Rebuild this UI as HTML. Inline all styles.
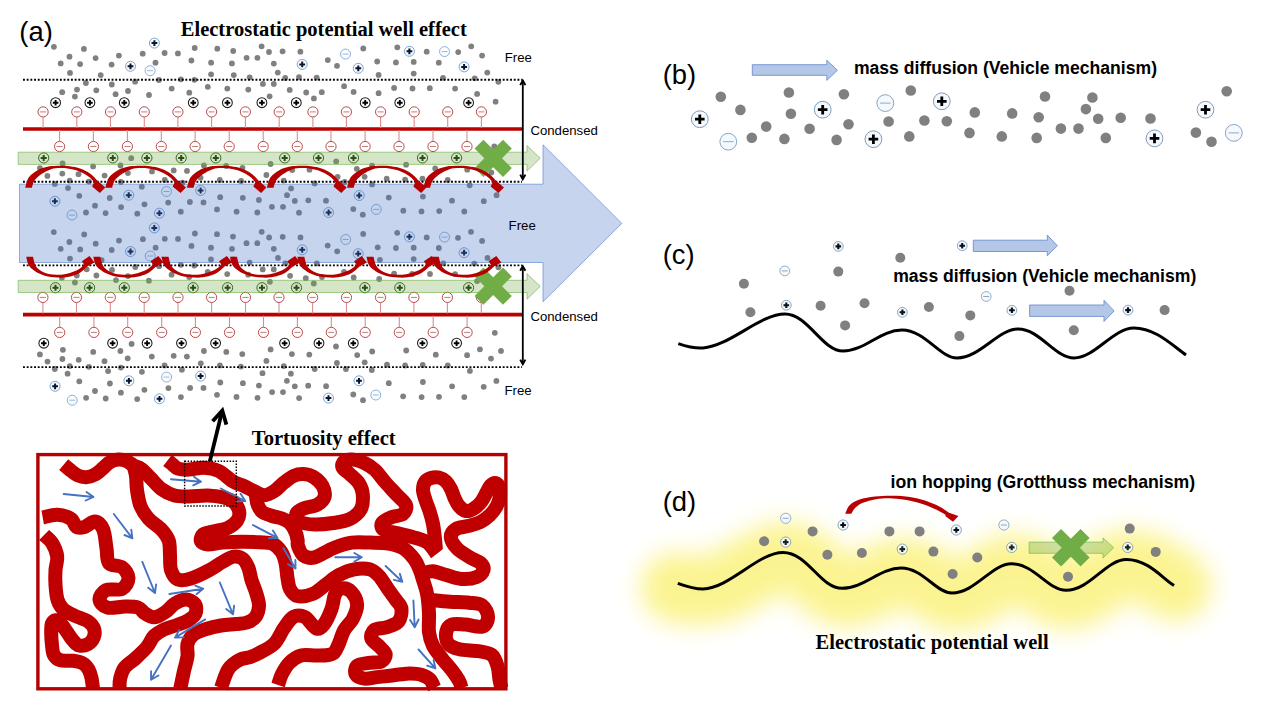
<!DOCTYPE html>
<html><head><meta charset="utf-8"><style>
html,body{margin:0;padding:0;background:#fff;overflow:hidden;}
svg{display:block;}
.s{font-family:"Liberation Sans",sans-serif;}
.r{font-family:"Liberation Serif",serif;}
</style></head><body>
<svg width="1268" height="714" viewBox="0 0 1268 714">
<defs><filter id="glow" filterUnits="userSpaceOnUse" x="560" y="460" width="720" height="240"><feGaussianBlur stdDeviation="12"/></filter></defs>
<rect width="1268" height="714" fill="#fff"/>
<circle cx="53.9" cy="46.8" r="2.9" fill="#808080"/><circle cx="83.9" cy="48.9" r="2.9" fill="#808080"/><circle cx="69.5" cy="56.7" r="2.9" fill="#808080"/><circle cx="95.6" cy="58.1" r="2.9" fill="#808080"/><circle cx="60.7" cy="63.4" r="2.9" fill="#808080"/><circle cx="80.1" cy="64.1" r="2.9" fill="#808080"/><circle cx="70" cy="72.9" r="2.9" fill="#808080"/><circle cx="111.6" cy="64.6" r="2.9" fill="#808080"/><circle cx="118.9" cy="55.6" r="2.9" fill="#808080"/><circle cx="100.7" cy="75.1" r="2.9" fill="#808080"/><circle cx="142.7" cy="53.7" r="2.9" fill="#808080"/><circle cx="164.6" cy="53" r="2.9" fill="#808080"/><circle cx="177.9" cy="53.4" r="2.9" fill="#808080"/><circle cx="194.7" cy="48" r="2.9" fill="#808080"/><circle cx="191.4" cy="60.5" r="2.9" fill="#808080"/><circle cx="155.5" cy="62.7" r="2.9" fill="#808080"/><circle cx="85.9" cy="83" r="2.9" fill="#808080"/><circle cx="111.8" cy="84.5" r="2.9" fill="#808080"/><circle cx="135.1" cy="81.7" r="2.9" fill="#808080"/><circle cx="158.9" cy="80" r="2.9" fill="#808080"/><circle cx="180.9" cy="79.3" r="2.9" fill="#808080"/><circle cx="194.4" cy="79.8" r="2.9" fill="#808080"/><circle cx="62.2" cy="92.2" r="2.9" fill="#808080"/><circle cx="77" cy="89.6" r="2.9" fill="#808080"/><circle cx="74.9" cy="96.6" r="2.9" fill="#808080"/><circle cx="96.3" cy="90.3" r="2.9" fill="#808080"/><circle cx="115.6" cy="94.2" r="2.9" fill="#808080"/><circle cx="128" cy="91" r="2.9" fill="#808080"/><circle cx="149" cy="95" r="2.9" fill="#808080"/><circle cx="171.7" cy="88.6" r="2.9" fill="#808080"/><circle cx="189.3" cy="92.7" r="2.9" fill="#808080"/><circle cx="217.3" cy="48.7" r="2.9" fill="#808080"/><circle cx="233.2" cy="51" r="2.9" fill="#808080"/><circle cx="211.1" cy="62.7" r="2.9" fill="#808080"/><circle cx="231.9" cy="63.4" r="2.9" fill="#808080"/><circle cx="211.1" cy="74.3" r="2.9" fill="#808080"/><circle cx="233.8" cy="75.1" r="2.9" fill="#808080"/><circle cx="246.6" cy="57.8" r="2.9" fill="#808080"/><circle cx="257.4" cy="57.8" r="2.9" fill="#808080"/><circle cx="261.6" cy="46.3" r="2.9" fill="#808080"/><circle cx="269" cy="52" r="2.9" fill="#808080"/><circle cx="282.6" cy="51.3" r="2.9" fill="#808080"/><circle cx="273.8" cy="63.6" r="2.9" fill="#808080"/><circle cx="277.8" cy="72.6" r="2.9" fill="#808080"/><circle cx="300.4" cy="51.7" r="2.9" fill="#808080"/><circle cx="249.7" cy="77.3" r="2.9" fill="#808080"/><circle cx="285.2" cy="78" r="2.9" fill="#808080"/><circle cx="299" cy="77.1" r="2.9" fill="#808080"/><circle cx="316.7" cy="77.6" r="2.9" fill="#808080"/><circle cx="327.8" cy="60.1" r="2.9" fill="#808080"/><circle cx="337" cy="65.8" r="2.9" fill="#808080"/><circle cx="363.3" cy="48.5" r="2.9" fill="#808080"/><circle cx="377.2" cy="61.5" r="2.9" fill="#808080"/><circle cx="378.6" cy="74.9" r="2.9" fill="#808080"/><circle cx="207.8" cy="86.8" r="2.9" fill="#808080"/><circle cx="227.3" cy="88.6" r="2.9" fill="#808080"/><circle cx="248.3" cy="89.6" r="2.9" fill="#808080"/><circle cx="262.9" cy="83.9" r="2.9" fill="#808080"/><circle cx="273.8" cy="83.9" r="2.9" fill="#808080"/><circle cx="269.6" cy="96.3" r="2.9" fill="#808080"/><circle cx="289.7" cy="89.9" r="2.9" fill="#808080"/><circle cx="306.2" cy="92.5" r="2.9" fill="#808080"/><circle cx="313.9" cy="98.4" r="2.9" fill="#808080"/><circle cx="321.8" cy="92.2" r="2.9" fill="#808080"/><circle cx="344.1" cy="86.2" r="2.9" fill="#808080"/><circle cx="353.6" cy="91.9" r="2.9" fill="#808080"/><circle cx="378.6" cy="93.2" r="2.9" fill="#808080"/><circle cx="397.3" cy="47.3" r="2.9" fill="#808080"/><circle cx="426.7" cy="51.7" r="2.9" fill="#808080"/><circle cx="458.2" cy="52.1" r="2.9" fill="#808080"/><circle cx="471.2" cy="46.3" r="2.9" fill="#808080"/><circle cx="482.1" cy="55.6" r="2.9" fill="#808080"/><circle cx="395.9" cy="62.4" r="2.9" fill="#808080"/><circle cx="413.7" cy="61.9" r="2.9" fill="#808080"/><circle cx="438.8" cy="62.7" r="2.9" fill="#808080"/><circle cx="413.7" cy="73.6" r="2.9" fill="#808080"/><circle cx="443" cy="77.8" r="2.9" fill="#808080"/><circle cx="474.7" cy="78.3" r="2.9" fill="#808080"/><circle cx="487.3" cy="72.6" r="2.9" fill="#808080"/><circle cx="498.4" cy="81.8" r="2.9" fill="#808080"/><circle cx="394.1" cy="87.9" r="2.9" fill="#808080"/><circle cx="412.5" cy="88.5" r="2.9" fill="#808080"/><circle cx="429.8" cy="88.2" r="2.9" fill="#808080"/><circle cx="455.1" cy="88.6" r="2.9" fill="#808080"/><circle cx="477.1" cy="93.9" r="2.9" fill="#808080"/><circle cx="495.6" cy="101.7" r="2.9" fill="#808080"/><circle cx="39.9" cy="168.1" r="2.9" fill="#808080"/><circle cx="62.6" cy="163.5" r="2.9" fill="#808080"/><circle cx="47.4" cy="175.9" r="2.9" fill="#808080"/><circle cx="62.3" cy="173.6" r="2.9" fill="#808080"/><circle cx="78.5" cy="174.2" r="2.9" fill="#808080"/><circle cx="93.1" cy="166.4" r="2.9" fill="#808080"/><circle cx="104.6" cy="175.6" r="2.9" fill="#808080"/><circle cx="120.5" cy="165.4" r="2.9" fill="#808080"/><circle cx="127.9" cy="173.1" r="2.9" fill="#808080"/><circle cx="152" cy="171.4" r="2.9" fill="#808080"/><circle cx="173.7" cy="170.4" r="2.9" fill="#808080"/><circle cx="187" cy="170.9" r="2.9" fill="#808080"/><circle cx="69.7" cy="180.6" r="2.9" fill="#808080"/><circle cx="88.9" cy="181.6" r="2.9" fill="#808080"/><circle cx="120.8" cy="182" r="2.9" fill="#808080"/><circle cx="164.8" cy="179.9" r="2.9" fill="#808080"/><circle cx="182.5" cy="182.7" r="2.9" fill="#808080"/><circle cx="54.8" cy="183.9" r="2.9" fill="#808080"/><circle cx="68" cy="188.1" r="2.9" fill="#808080"/><circle cx="79.3" cy="195.8" r="2.9" fill="#808080"/><circle cx="95" cy="205.7" r="2.9" fill="#808080"/><circle cx="86" cy="212.5" r="2.9" fill="#808080"/><circle cx="109.7" cy="198" r="2.9" fill="#808080"/><circle cx="105.6" cy="213.1" r="2.9" fill="#808080"/><circle cx="121.1" cy="207.1" r="2.9" fill="#808080"/><circle cx="137.3" cy="213.7" r="2.9" fill="#808080"/><circle cx="141.8" cy="186.7" r="2.9" fill="#808080"/><circle cx="144.5" cy="204.3" r="2.9" fill="#808080"/><circle cx="168.2" cy="202.6" r="2.9" fill="#808080"/><circle cx="180.8" cy="211.7" r="2.9" fill="#808080"/><circle cx="189.9" cy="202" r="2.9" fill="#808080"/><circle cx="131.2" cy="158.2" r="2.9" fill="#808080"/><circle cx="494.3" cy="146.4" r="2.9" fill="#808080"/><circle cx="203.9" cy="165.4" r="2.9" fill="#808080"/><circle cx="226.2" cy="166" r="2.9" fill="#808080"/><circle cx="242.5" cy="167.8" r="2.9" fill="#808080"/><circle cx="270.6" cy="164" r="2.9" fill="#808080"/><circle cx="200.6" cy="177.7" r="2.9" fill="#808080"/><circle cx="219.8" cy="179.9" r="2.9" fill="#808080"/><circle cx="241.1" cy="181" r="2.9" fill="#808080"/><circle cx="266.4" cy="175" r="2.9" fill="#808080"/><circle cx="283.7" cy="180.6" r="2.9" fill="#808080"/><circle cx="292.2" cy="170" r="2.9" fill="#808080"/><circle cx="309.5" cy="169.7" r="2.9" fill="#808080"/><circle cx="336.2" cy="161.4" r="2.9" fill="#808080"/><circle cx="337.6" cy="177" r="2.9" fill="#808080"/><circle cx="356.8" cy="168.8" r="2.9" fill="#808080"/><circle cx="364.6" cy="176.8" r="2.9" fill="#808080"/><circle cx="314.6" cy="183.4" r="2.9" fill="#808080"/><circle cx="344.7" cy="182" r="2.9" fill="#808080"/><circle cx="291.1" cy="188.4" r="2.9" fill="#808080"/><circle cx="287" cy="195.2" r="2.9" fill="#808080"/><circle cx="220.2" cy="197.2" r="2.9" fill="#808080"/><circle cx="242.8" cy="197.8" r="2.9" fill="#808080"/><circle cx="258.9" cy="200" r="2.9" fill="#808080"/><circle cx="203.5" cy="202.4" r="2.9" fill="#808080"/><circle cx="294.8" cy="200.9" r="2.9" fill="#808080"/><circle cx="308.3" cy="200.3" r="2.9" fill="#808080"/><circle cx="326" cy="200.7" r="2.9" fill="#808080"/><circle cx="217" cy="209.4" r="2.9" fill="#808080"/><circle cx="236.6" cy="211.7" r="2.9" fill="#808080"/><circle cx="257.3" cy="212.5" r="2.9" fill="#808080"/><circle cx="271.9" cy="206.8" r="2.9" fill="#808080"/><circle cx="283" cy="206.8" r="2.9" fill="#808080"/><circle cx="299" cy="212.7" r="2.9" fill="#808080"/><circle cx="353.3" cy="209.1" r="2.9" fill="#808080"/><circle cx="362.8" cy="214.7" r="2.9" fill="#808080"/><circle cx="372.1" cy="165.7" r="2.9" fill="#808080"/><circle cx="406.1" cy="164.7" r="2.9" fill="#808080"/><circle cx="435.2" cy="168.5" r="2.9" fill="#808080"/><circle cx="467.2" cy="169.7" r="2.9" fill="#808080"/><circle cx="491.3" cy="172.5" r="2.9" fill="#808080"/><circle cx="386.7" cy="178.7" r="2.9" fill="#808080"/><circle cx="405.1" cy="179.6" r="2.9" fill="#808080"/><circle cx="422.5" cy="178.7" r="2.9" fill="#808080"/><circle cx="447.7" cy="179.9" r="2.9" fill="#808080"/><circle cx="372.1" cy="184.4" r="2.9" fill="#808080"/><circle cx="469.7" cy="185.3" r="2.9" fill="#808080"/><circle cx="422.9" cy="196.6" r="2.9" fill="#808080"/><circle cx="388.8" cy="197.6" r="2.9" fill="#808080"/><circle cx="452" cy="200.7" r="2.9" fill="#808080"/><circle cx="483.8" cy="201.2" r="2.9" fill="#808080"/><circle cx="496.6" cy="195.2" r="2.9" fill="#808080"/><circle cx="403.3" cy="210.7" r="2.9" fill="#808080"/><circle cx="421.5" cy="211.4" r="2.9" fill="#808080"/><circle cx="439.2" cy="211.1" r="2.9" fill="#808080"/><circle cx="464.3" cy="211.5" r="2.9" fill="#808080"/><circle cx="53.8" cy="232.1" r="2.9" fill="#808080"/><circle cx="84.2" cy="234.4" r="2.9" fill="#808080"/><circle cx="69.4" cy="242" r="2.9" fill="#808080"/><circle cx="95.7" cy="243.7" r="2.9" fill="#808080"/><circle cx="60.7" cy="248.8" r="2.9" fill="#808080"/><circle cx="80.2" cy="249.4" r="2.9" fill="#808080"/><circle cx="70" cy="258.6" r="2.9" fill="#808080"/><circle cx="119" cy="240.6" r="2.9" fill="#808080"/><circle cx="111.7" cy="250" r="2.9" fill="#808080"/><circle cx="142.9" cy="239.2" r="2.9" fill="#808080"/><circle cx="164.8" cy="238.8" r="2.9" fill="#808080"/><circle cx="178" cy="238.9" r="2.9" fill="#808080"/><circle cx="155.6" cy="247.7" r="2.9" fill="#808080"/><circle cx="191.5" cy="245.9" r="2.9" fill="#808080"/><circle cx="194.9" cy="233.5" r="2.9" fill="#808080"/><circle cx="101.6" cy="260.2" r="2.9" fill="#808080"/><circle cx="86.7" cy="269.3" r="2.9" fill="#808080"/><circle cx="112" cy="269.9" r="2.9" fill="#808080"/><circle cx="135.3" cy="267" r="2.9" fill="#808080"/><circle cx="159.1" cy="266.2" r="2.9" fill="#808080"/><circle cx="180.8" cy="264.8" r="2.9" fill="#808080"/><circle cx="194.3" cy="265.5" r="2.9" fill="#808080"/><circle cx="76.8" cy="275.5" r="2.9" fill="#808080"/><circle cx="96.4" cy="275.5" r="2.9" fill="#808080"/><circle cx="127.9" cy="276.1" r="2.9" fill="#808080"/><circle cx="171.6" cy="274.7" r="2.9" fill="#808080"/><circle cx="189.2" cy="277.1" r="2.9" fill="#808080"/><circle cx="61.9" cy="277.8" r="2.9" fill="#808080"/><circle cx="74.9" cy="282.5" r="2.9" fill="#808080"/><circle cx="116" cy="280.1" r="2.9" fill="#808080"/><circle cx="148.9" cy="280.7" r="2.9" fill="#808080"/><circle cx="217" cy="234.2" r="2.9" fill="#808080"/><circle cx="233" cy="236.6" r="2.9" fill="#808080"/><circle cx="261.7" cy="231.8" r="2.9" fill="#808080"/><circle cx="269.1" cy="237.5" r="2.9" fill="#808080"/><circle cx="282.7" cy="236.8" r="2.9" fill="#808080"/><circle cx="300.5" cy="237.4" r="2.9" fill="#808080"/><circle cx="363.2" cy="233.9" r="2.9" fill="#808080"/><circle cx="211" cy="247.7" r="2.9" fill="#808080"/><circle cx="232" cy="248.8" r="2.9" fill="#808080"/><circle cx="246.5" cy="243.2" r="2.9" fill="#808080"/><circle cx="257.3" cy="243.2" r="2.9" fill="#808080"/><circle cx="273.8" cy="248.8" r="2.9" fill="#808080"/><circle cx="278" cy="257.9" r="2.9" fill="#808080"/><circle cx="327.7" cy="245.6" r="2.9" fill="#808080"/><circle cx="337.2" cy="251.3" r="2.9" fill="#808080"/><circle cx="211" cy="259.4" r="2.9" fill="#808080"/><circle cx="233.4" cy="259.5" r="2.9" fill="#808080"/><circle cx="249.6" cy="262.6" r="2.9" fill="#808080"/><circle cx="285.4" cy="263.3" r="2.9" fill="#808080"/><circle cx="316.8" cy="263.3" r="2.9" fill="#808080"/><circle cx="207.7" cy="271.8" r="2.9" fill="#808080"/><circle cx="227.2" cy="274.1" r="2.9" fill="#808080"/><circle cx="248.2" cy="274.7" r="2.9" fill="#808080"/><circle cx="262.7" cy="269.4" r="2.9" fill="#808080"/><circle cx="273.8" cy="269.4" r="2.9" fill="#808080"/><circle cx="290.1" cy="275.8" r="2.9" fill="#808080"/><circle cx="305.8" cy="278.2" r="2.9" fill="#808080"/><circle cx="322" cy="277" r="2.9" fill="#808080"/><circle cx="344" cy="271.8" r="2.9" fill="#808080"/><circle cx="353.7" cy="277.5" r="2.9" fill="#808080"/><circle cx="269.9" cy="281.8" r="2.9" fill="#808080"/><circle cx="313.8" cy="283.5" r="2.9" fill="#808080"/><circle cx="397.2" cy="232.8" r="2.9" fill="#808080"/><circle cx="426.7" cy="237.4" r="2.9" fill="#808080"/><circle cx="458" cy="237.8" r="2.9" fill="#808080"/><circle cx="471" cy="231.8" r="2.9" fill="#808080"/><circle cx="482.1" cy="240.9" r="2.9" fill="#808080"/><circle cx="377.7" cy="247.3" r="2.9" fill="#808080"/><circle cx="395.9" cy="248" r="2.9" fill="#808080"/><circle cx="413.7" cy="247.7" r="2.9" fill="#808080"/><circle cx="438.8" cy="248" r="2.9" fill="#808080"/><circle cx="379.9" cy="259.8" r="2.9" fill="#808080"/><circle cx="413.7" cy="259.1" r="2.9" fill="#808080"/><circle cx="443.3" cy="263.3" r="2.9" fill="#808080"/><circle cx="474.3" cy="263.6" r="2.9" fill="#808080"/><circle cx="487.5" cy="257.9" r="2.9" fill="#808080"/><circle cx="498.4" cy="267.3" r="2.9" fill="#808080"/><circle cx="394.1" cy="273.6" r="2.9" fill="#808080"/><circle cx="412.2" cy="274" r="2.9" fill="#808080"/><circle cx="430" cy="274" r="2.9" fill="#808080"/><circle cx="455.1" cy="274.1" r="2.9" fill="#808080"/><circle cx="379.2" cy="279" r="2.9" fill="#808080"/><circle cx="477.1" cy="281.1" r="2.9" fill="#808080"/><circle cx="62.9" cy="349.8" r="2.9" fill="#808080"/><circle cx="39.9" cy="354.4" r="2.9" fill="#808080"/><circle cx="62.4" cy="359" r="2.9" fill="#808080"/><circle cx="47.5" cy="361.6" r="2.9" fill="#808080"/><circle cx="78.7" cy="359.8" r="2.9" fill="#808080"/><circle cx="93.2" cy="351.9" r="2.9" fill="#808080"/><circle cx="104.5" cy="361.2" r="2.9" fill="#808080"/><circle cx="120.4" cy="351" r="2.9" fill="#808080"/><circle cx="131.6" cy="343.9" r="2.9" fill="#808080"/><circle cx="127.7" cy="358.3" r="2.9" fill="#808080"/><circle cx="151.8" cy="356.6" r="2.9" fill="#808080"/><circle cx="173.7" cy="355.8" r="2.9" fill="#808080"/><circle cx="186.9" cy="356.6" r="2.9" fill="#808080"/><circle cx="203.9" cy="351" r="2.9" fill="#808080"/><circle cx="200.8" cy="363.3" r="2.9" fill="#808080"/><circle cx="54.8" cy="369" r="2.9" fill="#808080"/><circle cx="69.8" cy="366.1" r="2.9" fill="#808080"/><circle cx="88.9" cy="366.8" r="2.9" fill="#808080"/><circle cx="120.9" cy="367.6" r="2.9" fill="#808080"/><circle cx="164.6" cy="365.4" r="2.9" fill="#808080"/><circle cx="181.9" cy="369.7" r="2.9" fill="#808080"/><circle cx="108.1" cy="371.1" r="2.9" fill="#808080"/><circle cx="67.6" cy="373.7" r="2.9" fill="#808080"/><circle cx="141.9" cy="371.8" r="2.9" fill="#808080"/><circle cx="79.3" cy="381.3" r="2.9" fill="#808080"/><circle cx="109.9" cy="383.5" r="2.9" fill="#808080"/><circle cx="95" cy="391" r="2.9" fill="#808080"/><circle cx="86.1" cy="397.8" r="2.9" fill="#808080"/><circle cx="105.7" cy="398.5" r="2.9" fill="#808080"/><circle cx="120.9" cy="392.7" r="2.9" fill="#808080"/><circle cx="144.4" cy="389.8" r="2.9" fill="#808080"/><circle cx="137.2" cy="399.1" r="2.9" fill="#808080"/><circle cx="168.4" cy="388.1" r="2.9" fill="#808080"/><circle cx="190.1" cy="387.9" r="2.9" fill="#808080"/><circle cx="203.5" cy="387.9" r="2.9" fill="#808080"/><circle cx="180.9" cy="397.1" r="2.9" fill="#808080"/><circle cx="226.3" cy="351.9" r="2.9" fill="#808080"/><circle cx="242.3" cy="354.1" r="2.9" fill="#808080"/><circle cx="270.6" cy="349.4" r="2.9" fill="#808080"/><circle cx="291.9" cy="354.1" r="2.9" fill="#808080"/><circle cx="309.3" cy="354.6" r="2.9" fill="#808080"/><circle cx="336" cy="346.5" r="2.9" fill="#808080"/><circle cx="357.2" cy="355.1" r="2.9" fill="#808080"/><circle cx="372.2" cy="351.5" r="2.9" fill="#808080"/><circle cx="266.4" cy="360.9" r="2.9" fill="#808080"/><circle cx="336.9" cy="363" r="2.9" fill="#808080"/><circle cx="364.7" cy="362.3" r="2.9" fill="#808080"/><circle cx="219.9" cy="365.4" r="2.9" fill="#808080"/><circle cx="240.9" cy="366.6" r="2.9" fill="#808080"/><circle cx="283.8" cy="366.1" r="2.9" fill="#808080"/><circle cx="314.7" cy="369" r="2.9" fill="#808080"/><circle cx="345.9" cy="369" r="2.9" fill="#808080"/><circle cx="371.8" cy="370" r="2.9" fill="#808080"/><circle cx="262.5" cy="373.2" r="2.9" fill="#808080"/><circle cx="290.9" cy="373.7" r="2.9" fill="#808080"/><circle cx="286.9" cy="380.8" r="2.9" fill="#808080"/><circle cx="220.3" cy="382.5" r="2.9" fill="#808080"/><circle cx="242.9" cy="383.2" r="2.9" fill="#808080"/><circle cx="258.9" cy="385.6" r="2.9" fill="#808080"/><circle cx="294.8" cy="386.3" r="2.9" fill="#808080"/><circle cx="308.2" cy="385.7" r="2.9" fill="#808080"/><circle cx="326.1" cy="386.2" r="2.9" fill="#808080"/><circle cx="217" cy="394.8" r="2.9" fill="#808080"/><circle cx="236.5" cy="396.9" r="2.9" fill="#808080"/><circle cx="257.5" cy="397.8" r="2.9" fill="#808080"/><circle cx="272.1" cy="392.1" r="2.9" fill="#808080"/><circle cx="283" cy="392.1" r="2.9" fill="#808080"/><circle cx="299.1" cy="398.1" r="2.9" fill="#808080"/><circle cx="353.3" cy="394.5" r="2.9" fill="#808080"/><circle cx="363" cy="400.2" r="2.9" fill="#808080"/><circle cx="494.8" cy="332.8" r="2.9" fill="#808080"/><circle cx="406.2" cy="350.5" r="2.9" fill="#808080"/><circle cx="435.8" cy="354.7" r="2.9" fill="#808080"/><circle cx="467.1" cy="355.2" r="2.9" fill="#808080"/><circle cx="479.9" cy="349.3" r="2.9" fill="#808080"/><circle cx="501" cy="350.9" r="2.9" fill="#808080"/><circle cx="491" cy="358.6" r="2.9" fill="#808080"/><circle cx="387" cy="364.7" r="2.9" fill="#808080"/><circle cx="405.1" cy="365.5" r="2.9" fill="#808080"/><circle cx="422.7" cy="365" r="2.9" fill="#808080"/><circle cx="447.8" cy="365.5" r="2.9" fill="#808080"/><circle cx="469.9" cy="370.9" r="2.9" fill="#808080"/><circle cx="388.8" cy="383.2" r="2.9" fill="#808080"/><circle cx="422.9" cy="382" r="2.9" fill="#808080"/><circle cx="452.1" cy="386.3" r="2.9" fill="#808080"/><circle cx="483.7" cy="386.8" r="2.9" fill="#808080"/><circle cx="496.4" cy="380.9" r="2.9" fill="#808080"/><circle cx="403.1" cy="396.3" r="2.9" fill="#808080"/><circle cx="421.6" cy="397.1" r="2.9" fill="#808080"/><circle cx="439" cy="396.8" r="2.9" fill="#808080"/><circle cx="464.3" cy="397.1" r="2.9" fill="#808080"/><circle cx="154.4" cy="43.1" r="5.0" fill="#fafcff" stroke="#6d9ccc" stroke-width="0.9"/><path d="M151.5 43.1H157.3M154.4 40.2V46" stroke="#081630" stroke-width="2.0"/><circle cx="130.5" cy="66.3" r="5.0" fill="#fafcff" stroke="#6d9ccc" stroke-width="0.9"/><path d="M127.6 66.3H133.4M130.5 63.4V69.2" stroke="#081630" stroke-width="2.0"/><circle cx="302.2" cy="64.4" r="5.0" fill="#fafcff" stroke="#6d9ccc" stroke-width="0.9"/><path d="M299.3 64.4H305.1M302.2 61.5V67.3" stroke="#081630" stroke-width="2.0"/><circle cx="358.3" cy="68.3" r="5.0" fill="#fafcff" stroke="#6d9ccc" stroke-width="0.9"/><path d="M355.4 68.3H361.2M358.3 65.4V71.2" stroke="#081630" stroke-width="2.0"/><circle cx="409.4" cy="51.3" r="5.0" fill="#fafcff" stroke="#6d9ccc" stroke-width="0.9"/><path d="M406.5 51.3H412.3M409.4 48.4V54.2" stroke="#081630" stroke-width="2.0"/><circle cx="464.1" cy="66.9" r="5.0" fill="#fafcff" stroke="#6d9ccc" stroke-width="0.9"/><path d="M461.2 66.9H467M464.1 64V69.8" stroke="#081630" stroke-width="2.0"/><circle cx="54.9" cy="201.2" r="5.0" fill="#fafcff" stroke="#6d9ccc" stroke-width="0.9"/><path d="M52 201.2H57.8M54.9 198.3V204.1" stroke="#081630" stroke-width="2.0"/><circle cx="128.7" cy="195.2" r="5.0" fill="#fafcff" stroke="#6d9ccc" stroke-width="0.9"/><path d="M125.8 195.2H131.6M128.7 192.3V198.1" stroke="#081630" stroke-width="2.0"/><circle cx="159.4" cy="213.2" r="5.0" fill="#fafcff" stroke="#6d9ccc" stroke-width="0.9"/><path d="M156.5 213.2H162.3M159.4 210.3V216.1" stroke="#081630" stroke-width="2.0"/><circle cx="154.3" cy="227.9" r="5.0" fill="#fafcff" stroke="#6d9ccc" stroke-width="0.9"/><path d="M151.4 227.9H157.2M154.3 225V230.8" stroke="#081630" stroke-width="2.0"/><circle cx="200.6" cy="190.5" r="5.0" fill="#fafcff" stroke="#6d9ccc" stroke-width="0.9"/><path d="M197.7 190.5H203.5M200.6 187.6V193.4" stroke="#081630" stroke-width="2.0"/><circle cx="328.6" cy="212.5" r="5.0" fill="#fafcff" stroke="#6d9ccc" stroke-width="0.9"/><path d="M325.7 212.5H331.5M328.6 209.6V215.4" stroke="#081630" stroke-width="2.0"/><circle cx="359.2" cy="195.5" r="5.0" fill="#fafcff" stroke="#6d9ccc" stroke-width="0.9"/><path d="M356.3 195.5H362.1M359.2 192.6V198.4" stroke="#081630" stroke-width="2.0"/><circle cx="130.5" cy="251.5" r="5.0" fill="#fafcff" stroke="#6d9ccc" stroke-width="0.9"/><path d="M127.6 251.5H133.4M130.5 248.6V254.4" stroke="#081630" stroke-width="2.0"/><circle cx="302.2" cy="249.8" r="5.0" fill="#fafcff" stroke="#6d9ccc" stroke-width="0.9"/><path d="M299.3 249.8H305.1M302.2 246.9V252.7" stroke="#081630" stroke-width="2.0"/><circle cx="358.2" cy="253.7" r="5.0" fill="#fafcff" stroke="#6d9ccc" stroke-width="0.9"/><path d="M355.3 253.7H361.1M358.2 250.8V256.6" stroke="#081630" stroke-width="2.0"/><circle cx="409.4" cy="236.8" r="5.0" fill="#fafcff" stroke="#6d9ccc" stroke-width="0.9"/><path d="M406.5 236.8H412.3M409.4 233.9V239.7" stroke="#081630" stroke-width="2.0"/><circle cx="464.1" cy="252.7" r="5.0" fill="#fafcff" stroke="#6d9ccc" stroke-width="0.9"/><path d="M461.2 252.7H467M464.1 249.8V255.6" stroke="#081630" stroke-width="2.0"/><circle cx="55.1" cy="386.3" r="5.0" fill="#fafcff" stroke="#6d9ccc" stroke-width="0.9"/><path d="M52.2 386.3H58M55.1 383.4V389.2" stroke="#081630" stroke-width="2.0"/><circle cx="128.9" cy="380.8" r="5.0" fill="#fafcff" stroke="#6d9ccc" stroke-width="0.9"/><path d="M126 380.8H131.8M128.9 377.9V383.7" stroke="#081630" stroke-width="2.0"/><circle cx="159.5" cy="398.8" r="5.0" fill="#fafcff" stroke="#6d9ccc" stroke-width="0.9"/><path d="M156.6 398.8H162.4M159.5 395.9V401.7" stroke="#081630" stroke-width="2.0"/><circle cx="200.6" cy="376.1" r="5.0" fill="#fafcff" stroke="#6d9ccc" stroke-width="0.9"/><path d="M197.7 376.1H203.5M200.6 373.2V379" stroke="#081630" stroke-width="2.0"/><circle cx="328.5" cy="398.1" r="5.0" fill="#fafcff" stroke="#6d9ccc" stroke-width="0.9"/><path d="M325.6 398.1H331.4M328.5 395.2V401" stroke="#081630" stroke-width="2.0"/><circle cx="359" cy="380.8" r="5.0" fill="#fafcff" stroke="#6d9ccc" stroke-width="0.9"/><path d="M356.1 380.8H361.9M359 377.9V383.7" stroke="#081630" stroke-width="2.0"/><circle cx="150.1" cy="70.7" r="5.0" fill="#fafcff" stroke="#80a8d4" stroke-width="0.9"/><path d="M147.1 70.7H153.1" stroke="#a0b8d4" stroke-width="1.0"/><circle cx="345.5" cy="54.1" r="5.0" fill="#fafcff" stroke="#80a8d4" stroke-width="0.9"/><path d="M342.5 54.1H348.5" stroke="#a0b8d4" stroke-width="1.0"/><circle cx="444.5" cy="51.6" r="5.0" fill="#fafcff" stroke="#80a8d4" stroke-width="0.9"/><path d="M441.5 51.6H447.5" stroke="#a0b8d4" stroke-width="1.0"/><circle cx="72" cy="215.1" r="5.0" fill="#fafcff" stroke="#80a8d4" stroke-width="0.9"/><path d="M69 215.1H75" stroke="#a0b8d4" stroke-width="1.0"/><circle cx="166.5" cy="191.5" r="5.0" fill="#fafcff" stroke="#80a8d4" stroke-width="0.9"/><path d="M163.5 191.5H169.5" stroke="#a0b8d4" stroke-width="1.0"/><circle cx="376.3" cy="209.4" r="5.0" fill="#fafcff" stroke="#80a8d4" stroke-width="0.9"/><path d="M373.3 209.4H379.3" stroke="#a0b8d4" stroke-width="1.0"/><circle cx="150.2" cy="256" r="5.0" fill="#fafcff" stroke="#80a8d4" stroke-width="0.9"/><path d="M147.2 256H153.2" stroke="#a0b8d4" stroke-width="1.0"/><circle cx="345.7" cy="239.5" r="5.0" fill="#fafcff" stroke="#80a8d4" stroke-width="0.9"/><path d="M342.7 239.5H348.7" stroke="#a0b8d4" stroke-width="1.0"/><circle cx="444.5" cy="237.1" r="5.0" fill="#fafcff" stroke="#80a8d4" stroke-width="0.9"/><path d="M441.5 237.1H447.5" stroke="#a0b8d4" stroke-width="1.0"/><circle cx="72.2" cy="400.2" r="5.0" fill="#fafcff" stroke="#80a8d4" stroke-width="0.9"/><path d="M69.2 400.2H75.2" stroke="#a0b8d4" stroke-width="1.0"/><circle cx="166.6" cy="377.1" r="5.0" fill="#fafcff" stroke="#80a8d4" stroke-width="0.9"/><path d="M163.6 377.1H169.6" stroke="#a0b8d4" stroke-width="1.0"/><circle cx="375.8" cy="395" r="5.0" fill="#fafcff" stroke="#80a8d4" stroke-width="0.9"/><path d="M372.8 395H378.8" stroke="#a0b8d4" stroke-width="1.0"/><line x1="23" y1="79.7" x2="522" y2="79.7" stroke="#000" stroke-width="1.9" stroke-dasharray="1.9 1.79"/><line x1="23" y1="181.7" x2="522" y2="181.7" stroke="#000" stroke-width="1.9" stroke-dasharray="1.9 1.79"/><line x1="23" y1="265.4" x2="522" y2="265.4" stroke="#000" stroke-width="1.9" stroke-dasharray="1.9 1.79"/><line x1="23" y1="367.1" x2="522" y2="367.1" stroke="#000" stroke-width="1.9" stroke-dasharray="1.9 1.79"/><line x1="23" y1="129.0" x2="522.5" y2="129.0" stroke="#bb0000" stroke-width="3.6"/><line x1="23" y1="314.6" x2="522.5" y2="314.6" stroke="#bb0000" stroke-width="3.6"/><line x1="43.1" y1="117.2" x2="43.1" y2="128" stroke="#dc8c8c" stroke-width="1.1"/><circle cx="43.1" cy="111.9" r="5.1" fill="#fff" stroke="#b84a4a" stroke-width="1"/><path d="M40.1 111.9H46.1" stroke="#c87c7c" stroke-width="1"/><line x1="76.8" y1="117.2" x2="76.8" y2="128" stroke="#dc8c8c" stroke-width="1.1"/><circle cx="76.8" cy="111.9" r="5.1" fill="#fff" stroke="#b84a4a" stroke-width="1"/><path d="M73.8 111.9H79.8" stroke="#c87c7c" stroke-width="1"/><line x1="110.5" y1="117.2" x2="110.5" y2="128" stroke="#dc8c8c" stroke-width="1.1"/><circle cx="110.5" cy="111.9" r="5.1" fill="#fff" stroke="#b84a4a" stroke-width="1"/><path d="M107.5 111.9H113.5" stroke="#c87c7c" stroke-width="1"/><line x1="144.3" y1="117.2" x2="144.3" y2="128" stroke="#dc8c8c" stroke-width="1.1"/><circle cx="144.3" cy="111.9" r="5.1" fill="#fff" stroke="#b84a4a" stroke-width="1"/><path d="M141.3 111.9H147.3" stroke="#c87c7c" stroke-width="1"/><line x1="177.9" y1="117.2" x2="177.9" y2="128" stroke="#dc8c8c" stroke-width="1.1"/><circle cx="177.9" cy="111.9" r="5.1" fill="#fff" stroke="#b84a4a" stroke-width="1"/><path d="M174.9 111.9H180.9" stroke="#c87c7c" stroke-width="1"/><line x1="211.6" y1="117.2" x2="211.6" y2="128" stroke="#dc8c8c" stroke-width="1.1"/><circle cx="211.6" cy="111.9" r="5.1" fill="#fff" stroke="#b84a4a" stroke-width="1"/><path d="M208.6 111.9H214.6" stroke="#c87c7c" stroke-width="1"/><line x1="245.4" y1="117.2" x2="245.4" y2="128" stroke="#dc8c8c" stroke-width="1.1"/><circle cx="245.4" cy="111.9" r="5.1" fill="#fff" stroke="#b84a4a" stroke-width="1"/><path d="M242.4 111.9H248.4" stroke="#c87c7c" stroke-width="1"/><line x1="279.2" y1="117.2" x2="279.2" y2="128" stroke="#dc8c8c" stroke-width="1.1"/><circle cx="279.2" cy="111.9" r="5.1" fill="#fff" stroke="#b84a4a" stroke-width="1"/><path d="M276.2 111.9H282.2" stroke="#c87c7c" stroke-width="1"/><line x1="312.9" y1="117.2" x2="312.9" y2="128" stroke="#dc8c8c" stroke-width="1.1"/><circle cx="312.9" cy="111.9" r="5.1" fill="#fff" stroke="#b84a4a" stroke-width="1"/><path d="M309.9 111.9H315.9" stroke="#c87c7c" stroke-width="1"/><line x1="346.4" y1="117.2" x2="346.4" y2="128" stroke="#dc8c8c" stroke-width="1.1"/><circle cx="346.4" cy="111.9" r="5.1" fill="#fff" stroke="#b84a4a" stroke-width="1"/><path d="M343.4 111.9H349.4" stroke="#c87c7c" stroke-width="1"/><line x1="380.6" y1="117.2" x2="380.6" y2="128" stroke="#dc8c8c" stroke-width="1.1"/><circle cx="380.6" cy="111.9" r="5.1" fill="#fff" stroke="#b84a4a" stroke-width="1"/><path d="M377.6 111.9H383.6" stroke="#c87c7c" stroke-width="1"/><line x1="414.2" y1="117.2" x2="414.2" y2="128" stroke="#dc8c8c" stroke-width="1.1"/><circle cx="414.2" cy="111.9" r="5.1" fill="#fff" stroke="#b84a4a" stroke-width="1"/><path d="M411.2 111.9H417.2" stroke="#c87c7c" stroke-width="1"/><line x1="447.7" y1="117.2" x2="447.7" y2="128" stroke="#dc8c8c" stroke-width="1.1"/><circle cx="447.7" cy="111.9" r="5.1" fill="#fff" stroke="#b84a4a" stroke-width="1"/><path d="M444.7 111.9H450.7" stroke="#c87c7c" stroke-width="1"/><line x1="481.4" y1="117.2" x2="481.4" y2="128" stroke="#dc8c8c" stroke-width="1.1"/><circle cx="481.4" cy="111.9" r="5.1" fill="#fff" stroke="#b84a4a" stroke-width="1"/><path d="M478.4 111.9H484.4" stroke="#c87c7c" stroke-width="1"/><line x1="59.6" y1="130" x2="59.6" y2="141.2" stroke="#dc8c8c" stroke-width="1.1"/><circle cx="59.6" cy="146.5" r="5.1" fill="#fff" stroke="#b84a4a" stroke-width="1"/><path d="M56.6 146.5H62.6" stroke="#c87c7c" stroke-width="1"/><line x1="93.4" y1="130" x2="93.4" y2="141.2" stroke="#dc8c8c" stroke-width="1.1"/><circle cx="93.4" cy="146.5" r="5.1" fill="#fff" stroke="#b84a4a" stroke-width="1"/><path d="M90.4 146.5H96.4" stroke="#c87c7c" stroke-width="1"/><line x1="127.4" y1="130" x2="127.4" y2="141.2" stroke="#dc8c8c" stroke-width="1.1"/><circle cx="127.4" cy="146.5" r="5.1" fill="#fff" stroke="#b84a4a" stroke-width="1"/><path d="M124.4 146.5H130.4" stroke="#c87c7c" stroke-width="1"/><line x1="161.3" y1="130" x2="161.3" y2="141.2" stroke="#dc8c8c" stroke-width="1.1"/><circle cx="161.3" cy="146.5" r="5.1" fill="#fff" stroke="#b84a4a" stroke-width="1"/><path d="M158.3 146.5H164.3" stroke="#c87c7c" stroke-width="1"/><line x1="195.1" y1="130" x2="195.1" y2="141.2" stroke="#dc8c8c" stroke-width="1.1"/><circle cx="195.1" cy="146.5" r="5.1" fill="#fff" stroke="#b84a4a" stroke-width="1"/><path d="M192.1 146.5H198.1" stroke="#c87c7c" stroke-width="1"/><line x1="229.2" y1="130" x2="229.2" y2="141.2" stroke="#dc8c8c" stroke-width="1.1"/><circle cx="229.2" cy="146.5" r="5.1" fill="#fff" stroke="#b84a4a" stroke-width="1"/><path d="M226.2 146.5H232.2" stroke="#c87c7c" stroke-width="1"/><line x1="263.2" y1="130" x2="263.2" y2="141.2" stroke="#dc8c8c" stroke-width="1.1"/><circle cx="263.2" cy="146.5" r="5.1" fill="#fff" stroke="#b84a4a" stroke-width="1"/><path d="M260.2 146.5H266.2" stroke="#c87c7c" stroke-width="1"/><line x1="297.3" y1="130" x2="297.3" y2="141.2" stroke="#dc8c8c" stroke-width="1.1"/><circle cx="297.3" cy="146.5" r="5.1" fill="#fff" stroke="#b84a4a" stroke-width="1"/><path d="M294.3 146.5H300.3" stroke="#c87c7c" stroke-width="1"/><line x1="331" y1="130" x2="331" y2="141.2" stroke="#dc8c8c" stroke-width="1.1"/><circle cx="331" cy="146.5" r="5.1" fill="#fff" stroke="#b84a4a" stroke-width="1"/><path d="M328 146.5H334" stroke="#c87c7c" stroke-width="1"/><line x1="365.1" y1="130" x2="365.1" y2="141.2" stroke="#dc8c8c" stroke-width="1.1"/><circle cx="365.1" cy="146.5" r="5.1" fill="#fff" stroke="#b84a4a" stroke-width="1"/><path d="M362.1 146.5H368.1" stroke="#c87c7c" stroke-width="1"/><line x1="399" y1="130" x2="399" y2="141.2" stroke="#dc8c8c" stroke-width="1.1"/><circle cx="399" cy="146.5" r="5.1" fill="#fff" stroke="#b84a4a" stroke-width="1"/><path d="M396 146.5H402" stroke="#c87c7c" stroke-width="1"/><line x1="433" y1="130" x2="433" y2="141.2" stroke="#dc8c8c" stroke-width="1.1"/><circle cx="433" cy="146.5" r="5.1" fill="#fff" stroke="#b84a4a" stroke-width="1"/><path d="M430 146.5H436" stroke="#c87c7c" stroke-width="1"/><line x1="467" y1="130" x2="467" y2="141.2" stroke="#dc8c8c" stroke-width="1.1"/><circle cx="467" cy="146.5" r="5.1" fill="#fff" stroke="#b84a4a" stroke-width="1"/><path d="M464 146.5H470" stroke="#c87c7c" stroke-width="1"/><line x1="42.9" y1="302.7" x2="42.9" y2="313.5" stroke="#dc8c8c" stroke-width="1.1"/><circle cx="42.9" cy="297.4" r="5.1" fill="#fff" stroke="#b84a4a" stroke-width="1"/><path d="M39.9 297.4H45.9" stroke="#c87c7c" stroke-width="1"/><line x1="76.5" y1="302.7" x2="76.5" y2="313.5" stroke="#dc8c8c" stroke-width="1.1"/><circle cx="76.5" cy="297.4" r="5.1" fill="#fff" stroke="#b84a4a" stroke-width="1"/><path d="M73.5 297.4H79.5" stroke="#c87c7c" stroke-width="1"/><line x1="110.3" y1="302.7" x2="110.3" y2="313.5" stroke="#dc8c8c" stroke-width="1.1"/><circle cx="110.3" cy="297.4" r="5.1" fill="#fff" stroke="#b84a4a" stroke-width="1"/><path d="M107.3 297.4H113.3" stroke="#c87c7c" stroke-width="1"/><line x1="144.2" y1="302.7" x2="144.2" y2="313.5" stroke="#dc8c8c" stroke-width="1.1"/><circle cx="144.2" cy="297.4" r="5.1" fill="#fff" stroke="#b84a4a" stroke-width="1"/><path d="M141.2 297.4H147.2" stroke="#c87c7c" stroke-width="1"/><line x1="178" y1="302.7" x2="178" y2="313.5" stroke="#dc8c8c" stroke-width="1.1"/><circle cx="178" cy="297.4" r="5.1" fill="#fff" stroke="#b84a4a" stroke-width="1"/><path d="M175 297.4H181" stroke="#c87c7c" stroke-width="1"/><line x1="211.6" y1="302.7" x2="211.6" y2="313.5" stroke="#dc8c8c" stroke-width="1.1"/><circle cx="211.6" cy="297.4" r="5.1" fill="#fff" stroke="#b84a4a" stroke-width="1"/><path d="M208.6 297.4H214.6" stroke="#c87c7c" stroke-width="1"/><line x1="245.5" y1="302.7" x2="245.5" y2="313.5" stroke="#dc8c8c" stroke-width="1.1"/><circle cx="245.5" cy="297.4" r="5.1" fill="#fff" stroke="#b84a4a" stroke-width="1"/><path d="M242.5 297.4H248.5" stroke="#c87c7c" stroke-width="1"/><line x1="279" y1="302.7" x2="279" y2="313.5" stroke="#dc8c8c" stroke-width="1.1"/><circle cx="279" cy="297.4" r="5.1" fill="#fff" stroke="#b84a4a" stroke-width="1"/><path d="M276 297.4H282" stroke="#c87c7c" stroke-width="1"/><line x1="312.6" y1="302.7" x2="312.6" y2="313.5" stroke="#dc8c8c" stroke-width="1.1"/><circle cx="312.6" cy="297.4" r="5.1" fill="#fff" stroke="#b84a4a" stroke-width="1"/><path d="M309.6 297.4H315.6" stroke="#c87c7c" stroke-width="1"/><line x1="346.5" y1="302.7" x2="346.5" y2="313.5" stroke="#dc8c8c" stroke-width="1.1"/><circle cx="346.5" cy="297.4" r="5.1" fill="#fff" stroke="#b84a4a" stroke-width="1"/><path d="M343.5 297.4H349.5" stroke="#c87c7c" stroke-width="1"/><line x1="380.5" y1="302.7" x2="380.5" y2="313.5" stroke="#dc8c8c" stroke-width="1.1"/><circle cx="380.5" cy="297.4" r="5.1" fill="#fff" stroke="#b84a4a" stroke-width="1"/><path d="M377.5 297.4H383.5" stroke="#c87c7c" stroke-width="1"/><line x1="413.9" y1="302.7" x2="413.9" y2="313.5" stroke="#dc8c8c" stroke-width="1.1"/><circle cx="413.9" cy="297.4" r="5.1" fill="#fff" stroke="#b84a4a" stroke-width="1"/><path d="M410.9 297.4H416.9" stroke="#c87c7c" stroke-width="1"/><line x1="447.4" y1="302.7" x2="447.4" y2="313.5" stroke="#dc8c8c" stroke-width="1.1"/><circle cx="447.4" cy="297.4" r="5.1" fill="#fff" stroke="#b84a4a" stroke-width="1"/><path d="M444.4 297.4H450.4" stroke="#c87c7c" stroke-width="1"/><line x1="481.3" y1="302.7" x2="481.3" y2="313.5" stroke="#dc8c8c" stroke-width="1.1"/><circle cx="481.3" cy="297.4" r="5.1" fill="#fff" stroke="#b84a4a" stroke-width="1"/><path d="M478.3 297.4H484.3" stroke="#c87c7c" stroke-width="1"/><line x1="59.7" y1="315.7" x2="59.7" y2="327.1" stroke="#dc8c8c" stroke-width="1.1"/><circle cx="59.7" cy="332.4" r="5.1" fill="#fff" stroke="#b84a4a" stroke-width="1"/><path d="M56.7 332.4H62.7" stroke="#c87c7c" stroke-width="1"/><line x1="93.9" y1="315.7" x2="93.9" y2="327.1" stroke="#dc8c8c" stroke-width="1.1"/><circle cx="93.9" cy="332.4" r="5.1" fill="#fff" stroke="#b84a4a" stroke-width="1"/><path d="M90.9 332.4H96.9" stroke="#c87c7c" stroke-width="1"/><line x1="127.7" y1="315.7" x2="127.7" y2="327.1" stroke="#dc8c8c" stroke-width="1.1"/><circle cx="127.7" cy="332.4" r="5.1" fill="#fff" stroke="#b84a4a" stroke-width="1"/><path d="M124.7 332.4H130.7" stroke="#c87c7c" stroke-width="1"/><line x1="161.7" y1="315.7" x2="161.7" y2="327.1" stroke="#dc8c8c" stroke-width="1.1"/><circle cx="161.7" cy="332.4" r="5.1" fill="#fff" stroke="#b84a4a" stroke-width="1"/><path d="M158.7 332.4H164.7" stroke="#c87c7c" stroke-width="1"/><line x1="195.4" y1="315.7" x2="195.4" y2="327.1" stroke="#dc8c8c" stroke-width="1.1"/><circle cx="195.4" cy="332.4" r="5.1" fill="#fff" stroke="#b84a4a" stroke-width="1"/><path d="M192.4 332.4H198.4" stroke="#c87c7c" stroke-width="1"/><line x1="229.5" y1="315.7" x2="229.5" y2="327.1" stroke="#dc8c8c" stroke-width="1.1"/><circle cx="229.5" cy="332.4" r="5.1" fill="#fff" stroke="#b84a4a" stroke-width="1"/><path d="M226.5 332.4H232.5" stroke="#c87c7c" stroke-width="1"/><line x1="263.5" y1="315.7" x2="263.5" y2="327.1" stroke="#dc8c8c" stroke-width="1.1"/><circle cx="263.5" cy="332.4" r="5.1" fill="#fff" stroke="#b84a4a" stroke-width="1"/><path d="M260.5 332.4H266.5" stroke="#c87c7c" stroke-width="1"/><line x1="297.4" y1="315.7" x2="297.4" y2="327.1" stroke="#dc8c8c" stroke-width="1.1"/><circle cx="297.4" cy="332.4" r="5.1" fill="#fff" stroke="#b84a4a" stroke-width="1"/><path d="M294.4 332.4H300.4" stroke="#c87c7c" stroke-width="1"/><line x1="331.3" y1="315.7" x2="331.3" y2="327.1" stroke="#dc8c8c" stroke-width="1.1"/><circle cx="331.3" cy="332.4" r="5.1" fill="#fff" stroke="#b84a4a" stroke-width="1"/><path d="M328.3 332.4H334.3" stroke="#c87c7c" stroke-width="1"/><line x1="365.2" y1="315.7" x2="365.2" y2="327.1" stroke="#dc8c8c" stroke-width="1.1"/><circle cx="365.2" cy="332.4" r="5.1" fill="#fff" stroke="#b84a4a" stroke-width="1"/><path d="M362.2 332.4H368.2" stroke="#c87c7c" stroke-width="1"/><line x1="399.3" y1="315.7" x2="399.3" y2="327.1" stroke="#dc8c8c" stroke-width="1.1"/><circle cx="399.3" cy="332.4" r="5.1" fill="#fff" stroke="#b84a4a" stroke-width="1"/><path d="M396.3 332.4H402.3" stroke="#c87c7c" stroke-width="1"/><line x1="433.2" y1="315.7" x2="433.2" y2="327.1" stroke="#dc8c8c" stroke-width="1.1"/><circle cx="433.2" cy="332.4" r="5.1" fill="#fff" stroke="#b84a4a" stroke-width="1"/><path d="M430.2 332.4H436.2" stroke="#c87c7c" stroke-width="1"/><line x1="467.1" y1="315.7" x2="467.1" y2="327.1" stroke="#dc8c8c" stroke-width="1.1"/><circle cx="467.1" cy="332.4" r="5.1" fill="#fff" stroke="#b84a4a" stroke-width="1"/><path d="M464.1 332.4H470.1" stroke="#c87c7c" stroke-width="1"/><circle cx="55.6" cy="102.7" r="4.9" fill="#fff" stroke="#1a1a1a" stroke-width="1.05"/><path d="M52.8 102.7H58.4M55.6 99.9V105.5" stroke="#000" stroke-width="1.9"/><circle cx="89.9" cy="102.7" r="4.9" fill="#fff" stroke="#1a1a1a" stroke-width="1.05"/><path d="M87.1 102.7H92.7M89.9 99.9V105.5" stroke="#000" stroke-width="1.9"/><circle cx="124.3" cy="102.7" r="4.9" fill="#fff" stroke="#1a1a1a" stroke-width="1.05"/><path d="M121.5 102.7H127.1M124.3 99.9V105.5" stroke="#000" stroke-width="1.9"/><circle cx="193.3" cy="102.7" r="4.9" fill="#fff" stroke="#1a1a1a" stroke-width="1.05"/><path d="M190.5 102.7H196.1M193.3 99.9V105.5" stroke="#000" stroke-width="1.9"/><circle cx="227.4" cy="102.7" r="4.9" fill="#fff" stroke="#1a1a1a" stroke-width="1.05"/><path d="M224.6 102.7H230.2M227.4 99.9V105.5" stroke="#000" stroke-width="1.9"/><circle cx="261.9" cy="102.7" r="4.9" fill="#fff" stroke="#1a1a1a" stroke-width="1.05"/><path d="M259.1 102.7H264.7M261.9 99.9V105.5" stroke="#000" stroke-width="1.9"/><circle cx="296.3" cy="102.7" r="4.9" fill="#fff" stroke="#1a1a1a" stroke-width="1.05"/><path d="M293.5 102.7H299.1M296.3 99.9V105.5" stroke="#000" stroke-width="1.9"/><circle cx="365.2" cy="102.7" r="4.9" fill="#fff" stroke="#1a1a1a" stroke-width="1.05"/><path d="M362.4 102.7H368M365.2 99.9V105.5" stroke="#000" stroke-width="1.9"/><circle cx="399.8" cy="102.7" r="4.9" fill="#fff" stroke="#1a1a1a" stroke-width="1.05"/><path d="M397 102.7H402.6M399.8 99.9V105.5" stroke="#000" stroke-width="1.9"/><circle cx="468.6" cy="102.7" r="4.9" fill="#fff" stroke="#1a1a1a" stroke-width="1.05"/><path d="M465.8 102.7H471.4M468.6 99.9V105.5" stroke="#000" stroke-width="1.9"/><circle cx="43.8" cy="343.2" r="4.9" fill="#fff" stroke="#1a1a1a" stroke-width="1.05"/><path d="M41 343.2H46.6M43.8 340.4V346" stroke="#000" stroke-width="1.9"/><circle cx="112.6" cy="343.2" r="4.9" fill="#fff" stroke="#1a1a1a" stroke-width="1.05"/><path d="M109.8 343.2H115.4M112.6 340.4V346" stroke="#000" stroke-width="1.9"/><circle cx="147.1" cy="343.2" r="4.9" fill="#fff" stroke="#1a1a1a" stroke-width="1.05"/><path d="M144.3 343.2H149.9M147.1 340.4V346" stroke="#000" stroke-width="1.9"/><circle cx="181.5" cy="343.2" r="4.9" fill="#fff" stroke="#1a1a1a" stroke-width="1.05"/><path d="M178.7 343.2H184.3M181.5 340.4V346" stroke="#000" stroke-width="1.9"/><circle cx="215.6" cy="343.2" r="4.9" fill="#fff" stroke="#1a1a1a" stroke-width="1.05"/><path d="M212.8 343.2H218.4M215.6 340.4V346" stroke="#000" stroke-width="1.9"/><circle cx="284.6" cy="343.2" r="4.9" fill="#fff" stroke="#1a1a1a" stroke-width="1.05"/><path d="M281.8 343.2H287.4M284.6 340.4V346" stroke="#000" stroke-width="1.9"/><circle cx="319" cy="343.2" r="4.9" fill="#fff" stroke="#1a1a1a" stroke-width="1.05"/><path d="M316.2 343.2H321.8M319 340.4V346" stroke="#000" stroke-width="1.9"/><circle cx="353.3" cy="343.2" r="4.9" fill="#fff" stroke="#1a1a1a" stroke-width="1.05"/><path d="M350.5 343.2H356.1M353.3 340.4V346" stroke="#000" stroke-width="1.9"/><circle cx="422.4" cy="343.2" r="4.9" fill="#fff" stroke="#1a1a1a" stroke-width="1.05"/><path d="M419.6 343.2H425.2M422.4 340.4V346" stroke="#000" stroke-width="1.9"/><circle cx="456.6" cy="343.2" r="4.9" fill="#fff" stroke="#1a1a1a" stroke-width="1.05"/><path d="M453.8 343.2H459.4M456.6 340.4V346" stroke="#000" stroke-width="1.9"/><circle cx="43.7" cy="157.9" r="5.1" fill="none" stroke="#264a18" stroke-width="1.0"/><path d="M40.7 157.9H46.7M43.7 154.9V160.9" stroke="#0c2406" stroke-width="2.0"/><circle cx="112.8" cy="157.9" r="5.1" fill="none" stroke="#264a18" stroke-width="1.0"/><path d="M109.8 157.9H115.8M112.8 154.9V160.9" stroke="#0c2406" stroke-width="2.0"/><circle cx="146.9" cy="157.9" r="5.1" fill="none" stroke="#264a18" stroke-width="1.0"/><path d="M143.9 157.9H149.9M146.9 154.9V160.9" stroke="#0c2406" stroke-width="2.0"/><circle cx="181.2" cy="157.9" r="5.1" fill="none" stroke="#264a18" stroke-width="1.0"/><path d="M178.2 157.9H184.2M181.2 154.9V160.9" stroke="#0c2406" stroke-width="2.0"/><circle cx="215.8" cy="157.9" r="5.1" fill="none" stroke="#264a18" stroke-width="1.0"/><path d="M212.8 157.9H218.8M215.8 154.9V160.9" stroke="#0c2406" stroke-width="2.0"/><circle cx="284.7" cy="157.9" r="5.1" fill="none" stroke="#264a18" stroke-width="1.0"/><path d="M281.7 157.9H287.7M284.7 154.9V160.9" stroke="#0c2406" stroke-width="2.0"/><circle cx="318.5" cy="157.9" r="5.1" fill="none" stroke="#264a18" stroke-width="1.0"/><path d="M315.5 157.9H321.5M318.5 154.9V160.9" stroke="#0c2406" stroke-width="2.0"/><circle cx="353.5" cy="157.9" r="5.1" fill="none" stroke="#264a18" stroke-width="1.0"/><path d="M350.5 157.9H356.5M353.5 154.9V160.9" stroke="#0c2406" stroke-width="2.0"/><circle cx="422.5" cy="157.9" r="5.1" fill="none" stroke="#264a18" stroke-width="1.0"/><path d="M419.5 157.9H425.5M422.5 154.9V160.9" stroke="#0c2406" stroke-width="2.0"/><circle cx="456.6" cy="157.9" r="5.1" fill="none" stroke="#264a18" stroke-width="1.0"/><path d="M453.6 157.9H459.6M456.6 154.9V160.9" stroke="#0c2406" stroke-width="2.0"/><circle cx="55.5" cy="287.7" r="5.1" fill="none" stroke="#264a18" stroke-width="1.0"/><path d="M52.5 287.7H58.5M55.5 284.7V290.7" stroke="#0c2406" stroke-width="2.0"/><circle cx="89.6" cy="287.7" r="5.1" fill="none" stroke="#264a18" stroke-width="1.0"/><path d="M86.6 287.7H92.6M89.6 284.7V290.7" stroke="#0c2406" stroke-width="2.0"/><circle cx="124.3" cy="287.7" r="5.1" fill="none" stroke="#264a18" stroke-width="1.0"/><path d="M121.3 287.7H127.3M124.3 284.7V290.7" stroke="#0c2406" stroke-width="2.0"/><circle cx="193.1" cy="287.7" r="5.1" fill="none" stroke="#264a18" stroke-width="1.0"/><path d="M190.1 287.7H196.1M193.1 284.7V290.7" stroke="#0c2406" stroke-width="2.0"/><circle cx="227.6" cy="287.7" r="5.1" fill="none" stroke="#264a18" stroke-width="1.0"/><path d="M224.6 287.7H230.6M227.6 284.7V290.7" stroke="#0c2406" stroke-width="2.0"/><circle cx="262" cy="287.7" r="5.1" fill="none" stroke="#264a18" stroke-width="1.0"/><path d="M259 287.7H265M262 284.7V290.7" stroke="#0c2406" stroke-width="2.0"/><circle cx="296.5" cy="287.7" r="5.1" fill="none" stroke="#264a18" stroke-width="1.0"/><path d="M293.5 287.7H299.5M296.5 284.7V290.7" stroke="#0c2406" stroke-width="2.0"/><circle cx="364.9" cy="287.7" r="5.1" fill="none" stroke="#264a18" stroke-width="1.0"/><path d="M361.9 287.7H367.9M364.9 284.7V290.7" stroke="#0c2406" stroke-width="2.0"/><circle cx="399.8" cy="287.7" r="5.1" fill="none" stroke="#264a18" stroke-width="1.0"/><path d="M396.8 287.7H402.8M399.8 284.7V290.7" stroke="#0c2406" stroke-width="2.0"/><circle cx="468.6" cy="287.7" r="5.1" fill="none" stroke="#264a18" stroke-width="1.0"/><path d="M465.6 287.7H471.6M468.6 284.7V290.7" stroke="#0c2406" stroke-width="2.0"/><path d="M19.5 184.2H543V144.8L621.8 223.4L543 301.8V262.5H19.5Z" fill="#4472c4" fill-opacity="0.3" stroke="#4472c4" stroke-opacity="0.55" stroke-width="1"/><path d="M18.2 152.2H527V145.5L540.2 158.3L527 171.1V164.4H18.2Z" fill="#70ad47" fill-opacity="0.3" stroke="#70ad47" stroke-opacity="0.6" stroke-width="1"/><path d="M18.2 280.3H527V273.6L540.2 286.4L527 299.2V292.5H18.2Z" fill="#70ad47" fill-opacity="0.3" stroke="#70ad47" stroke-opacity="0.6" stroke-width="1"/><g transform="translate(493.2 158.3) rotate(45)" fill="#70ad47"><rect x="-20.1" y="-6.25" width="40.2" height="12.5"/><rect x="-6.25" y="-20.1" width="12.5" height="40.2"/></g><g transform="translate(493.2 286.2) rotate(45)" fill="#70ad47"><rect x="-20.1" y="-6.25" width="40.2" height="12.5"/><rect x="-6.25" y="-20.1" width="12.5" height="40.2"/></g><path d="M25.2 187.7C25.78 186.02 26.7 180.48 28.7 177.6C30.7 174.72 33.93 172.23 37.2 170.4C40.47 168.57 44.55 167.37 48.3 166.6C52.05 165.83 56.13 165.85 59.7 165.8C63.27 165.75 66.3 165.87 69.7 166.3C73.1 166.73 77.17 167.48 80.1 168.4C83.03 169.32 85.15 170.53 87.3 171.8C89.45 173.07 91.35 174.53 93 176C94.65 177.47 96.5 179.83 97.2 180.6L105.30 187.60L99.90 193.10L92.10 186.40L94.1 182.3C93.43 181.55 91.75 179.22 90.1 177.8C88.45 176.38 86.52 175.07 84.2 173.8C81.88 172.53 78.95 171.08 76.2 170.2C73.45 169.32 70.45 168.85 67.7 168.5C64.95 168.15 62.45 167.98 59.7 168.1C56.95 168.22 54.23 168.22 51.2 169.2C48.17 170.18 44.28 172.1 41.5 174C38.72 175.9 36.1 178.32 34.5 180.6C32.9 182.88 32.33 186.52 31.9 187.7Z" fill="#b40000"/><path d="M105.4 187.7C105.98 186.02 106.91 180.48 108.92 177.6C110.93 174.72 114.18 172.23 117.46 170.4C120.75 168.57 124.85 167.37 128.62 166.6C132.39 165.83 136.5 165.85 140.08 165.8C143.67 165.75 146.72 165.87 150.14 166.3C153.56 166.73 157.64 167.48 160.59 168.4C163.54 169.32 165.67 170.53 167.83 171.8C169.99 173.07 171.9 174.53 173.56 176C175.22 177.47 177.08 179.83 177.79 180.6L185.93 187.60L180.50 193.10L172.66 186.40L174.67 182.3C174 181.55 172.31 179.22 170.65 177.8C168.99 176.38 167.04 175.07 164.72 173.8C162.39 172.53 159.44 171.08 156.67 170.2C153.91 169.32 150.89 168.85 148.13 168.5C145.36 168.15 142.85 167.98 140.08 168.1C137.32 168.22 134.59 168.22 131.54 169.2C128.49 170.18 124.58 172.1 121.79 174C118.99 175.9 116.36 178.32 114.75 180.6C113.14 182.88 112.57 186.52 112.13 187.7Z" fill="#b40000"/><path d="M187 187.7C187.58 186.02 188.49 180.48 190.48 177.6C192.46 174.72 195.67 172.23 198.91 170.4C202.15 168.57 206.2 167.37 209.92 166.6C213.64 165.83 217.69 165.85 221.22 165.8C224.76 165.75 227.77 165.87 231.14 166.3C234.52 166.73 238.55 167.48 241.46 168.4C244.37 169.32 246.47 170.53 248.6 171.8C250.73 173.07 252.62 174.53 254.26 176C255.89 177.47 257.73 179.83 258.42 180.6L266.46 187.60L261.10 193.10L253.36 186.40L255.35 182.3C254.68 181.55 253.02 179.22 251.38 177.8C249.74 176.38 247.82 175.07 245.53 173.8C243.23 172.53 240.32 171.08 237.59 170.2C234.86 169.32 231.89 168.85 229.16 168.5C226.43 168.15 223.95 167.98 221.22 168.1C218.5 168.22 215.8 168.22 212.79 169.2C209.78 170.18 205.93 172.1 203.17 174C200.41 175.9 197.82 178.32 196.23 180.6C194.64 182.88 194.08 186.52 193.65 187.7Z" fill="#b40000"/><path d="M266.9 187.7C267.48 186.02 268.4 180.48 270.39 177.6C272.38 174.72 275.6 172.23 278.85 170.4C282.11 168.57 286.17 167.37 289.91 166.6C293.64 165.83 297.71 165.85 301.26 165.8C304.81 165.75 307.84 165.87 311.22 166.3C314.61 166.73 318.66 167.48 321.58 168.4C324.5 169.32 326.61 170.53 328.75 171.8C330.89 173.07 332.78 174.53 334.43 176C336.07 177.47 337.91 179.83 338.61 180.6L346.68 187.60L341.30 193.10L333.53 186.40L335.52 182.3C334.86 181.55 333.18 179.22 331.54 177.8C329.9 176.38 327.97 175.07 325.66 173.8C323.36 172.53 320.43 171.08 317.7 170.2C314.96 169.32 311.97 168.85 309.23 168.5C306.49 168.15 304 167.98 301.26 168.1C298.52 168.22 295.82 168.22 292.8 169.2C289.78 170.18 285.91 172.1 283.14 174C280.36 175.9 277.76 178.32 276.16 180.6C274.57 182.88 274.01 186.52 273.57 187.7Z" fill="#b40000"/><path d="M347.1 187.7C347.68 186.02 348.59 180.48 350.57 177.6C352.55 174.72 355.76 172.23 358.99 170.4C362.23 168.57 366.27 167.37 369.99 166.6C373.7 165.83 377.75 165.85 381.28 165.8C384.81 165.75 387.82 165.87 391.18 166.3C394.55 166.73 398.58 167.48 401.49 168.4C404.39 169.32 406.49 170.53 408.62 171.8C410.75 173.07 412.63 174.53 414.26 176C415.9 177.47 417.73 179.83 418.42 180.6L426.45 187.60L421.10 193.10L413.37 186.40L415.35 182.3C414.69 181.55 413.03 179.22 411.39 177.8C409.76 176.38 407.84 175.07 405.55 173.8C403.25 172.53 400.35 171.08 397.62 170.2C394.9 169.32 391.93 168.85 389.2 168.5C386.48 168.15 384 167.98 381.28 168.1C378.55 168.22 375.86 168.22 372.86 169.2C369.85 170.18 366.01 172.1 363.25 174C360.49 175.9 357.9 178.32 356.32 180.6C354.73 182.88 354.17 186.52 353.74 187.7Z" fill="#b40000"/><path d="M423.4 187.7C423.98 186.02 424.91 180.48 426.92 177.6C428.93 174.72 432.18 172.23 435.46 170.4C438.75 168.57 442.85 167.37 446.62 166.6C450.39 165.83 454.5 165.85 458.08 165.8C461.67 165.75 464.72 165.87 468.14 166.3C471.56 166.73 475.64 167.48 478.59 168.4C481.54 169.32 483.67 170.53 485.83 171.8C487.99 173.07 489.9 174.53 491.56 176C493.22 177.47 495.08 179.83 495.79 180.6L503.93 187.60L498.50 193.10L490.66 186.40L492.67 182.3C492 181.55 490.31 179.22 488.65 177.8C486.99 176.38 485.04 175.07 482.72 173.8C480.39 172.53 477.44 171.08 474.67 170.2C471.91 169.32 468.89 168.85 466.13 168.5C463.36 168.15 460.85 167.98 458.08 168.1C455.32 168.22 452.59 168.22 449.54 169.2C446.49 170.18 442.58 172.1 439.79 174C436.99 175.9 434.36 178.32 432.75 180.6C431.14 182.88 430.57 186.52 430.13 187.7Z" fill="#b40000"/><path d="M26.2 256.7C26.65 258.18 27.37 263.13 28.9 265.6C30.43 268.07 32.73 269.82 35.4 271.5C38.07 273.18 41.32 274.7 44.9 275.7C48.48 276.7 53.35 277.25 56.9 277.5C60.45 277.75 62.9 277.72 66.2 277.2C69.5 276.68 73.85 275.57 76.7 274.4C79.55 273.23 81.55 271.5 83.3 270.2C85.05 268.9 86.55 267.2 87.2 266.6L94.50 262.40L89.50 256.00L81.90 261.20L84.1 264.4C83.45 265.03 82.02 266.97 80.2 268.2C78.38 269.43 75.78 270.8 73.2 271.8C70.62 272.8 67.45 273.7 64.7 274.2C61.95 274.7 59.37 274.83 56.7 274.8C54.03 274.77 51.28 274.63 48.7 274C46.12 273.37 43.37 272.37 41.2 271C39.03 269.63 37.07 268.18 35.7 265.8C34.33 263.42 33.45 258.22 33 256.7Z" fill="#b40000"/><path d="M93.29 256.7C93.75 258.18 94.49 263.13 96.06 265.6C97.64 268.07 100.01 269.82 102.75 271.5C105.49 273.18 108.84 274.7 112.52 275.7C116.21 276.7 121.21 277.25 124.87 277.5C128.52 277.75 131.04 277.72 134.43 277.2C137.83 276.68 142.3 275.57 145.23 274.4C148.16 273.23 150.22 271.5 152.02 270.2C153.82 268.9 155.37 267.2 156.03 266.6L163.54 262.40L158.40 256.00L150.58 261.20L152.85 264.4C152.18 265.03 150.7 266.97 148.83 268.2C146.96 269.43 144.29 270.8 141.63 271.8C138.98 272.8 135.72 273.7 132.89 274.2C130.06 274.7 127.4 274.83 124.66 274.8C121.92 274.77 119.09 274.63 116.43 274C113.77 273.37 110.94 272.37 108.72 271C106.49 269.63 104.46 268.18 103.06 265.8C101.65 263.42 100.74 258.22 100.28 256.7Z" fill="#b40000"/><path d="M161.48 256.7C161.95 258.18 162.69 263.13 164.27 265.6C165.86 268.07 168.24 269.82 170.99 271.5C173.75 273.18 177.11 274.7 180.81 275.7C184.51 276.7 189.54 277.25 193.21 277.5C196.88 277.75 199.41 277.72 202.82 277.2C206.23 276.68 210.73 275.57 213.67 274.4C216.62 273.23 218.68 271.5 220.49 270.2C222.3 268.9 223.85 267.2 224.52 266.6L232.07 262.40L226.90 256.00L219.05 261.20L221.32 264.4C220.65 265.03 219.17 266.97 217.29 268.2C215.41 269.43 212.72 270.8 210.05 271.8C207.39 272.8 204.11 273.7 201.27 274.2C198.43 274.7 195.76 274.83 193 274.8C190.25 274.77 187.41 274.63 184.74 274C182.07 273.37 179.22 272.37 176.98 271C174.75 269.63 172.71 268.18 171.3 265.8C169.89 263.42 168.98 258.22 168.51 256.7Z" fill="#b40000"/><path d="M229.99 256.7C230.45 258.18 231.19 263.13 232.76 265.6C234.34 268.07 236.71 269.82 239.45 271.5C242.19 273.18 245.54 274.7 249.22 275.7C252.91 276.7 257.91 277.25 261.57 277.5C265.22 277.75 267.74 277.72 271.13 277.2C274.53 276.68 279 275.57 281.93 274.4C284.86 273.23 286.92 271.5 288.72 270.2C290.52 268.9 292.07 267.2 292.73 266.6L300.24 262.40L295.10 256.00L287.28 261.20L289.55 264.4C288.88 265.03 287.4 266.97 285.53 268.2C283.66 269.43 280.99 270.8 278.33 271.8C275.68 272.8 272.42 273.7 269.59 274.2C266.76 274.7 264.1 274.83 261.36 274.8C258.62 274.77 255.79 274.63 253.13 274C250.47 273.37 247.64 272.37 245.42 271C243.19 269.63 241.16 268.18 239.76 265.8C238.35 263.42 237.44 258.22 236.98 256.7Z" fill="#b40000"/><path d="M297.39 256.7C297.85 258.18 298.58 263.13 300.14 265.6C301.7 268.07 304.04 269.82 306.75 271.5C309.47 273.18 312.77 274.7 316.42 275.7C320.06 276.7 325.02 277.25 328.63 277.5C332.24 277.75 334.73 277.72 338.09 277.2C341.45 276.68 345.88 275.57 348.78 274.4C351.68 273.23 353.71 271.5 355.49 270.2C357.27 268.9 358.8 267.2 359.46 266.6L366.89 262.40L361.80 256.00L354.07 261.20L356.31 264.4C355.64 265.03 354.19 266.97 352.34 268.2C350.49 269.43 347.84 270.8 345.21 271.8C342.59 272.8 339.36 273.7 336.57 274.2C333.77 274.7 331.14 274.83 328.43 274.8C325.71 274.77 322.91 274.63 320.29 274C317.66 273.37 314.86 272.37 312.65 271C310.45 269.63 308.45 268.18 307.06 265.8C305.67 263.42 304.77 258.22 304.31 256.7Z" fill="#b40000"/><path d="M366.48 256.7C366.95 258.18 367.69 263.13 369.27 265.6C370.85 268.07 373.22 269.82 375.96 271.5C378.71 273.18 382.06 274.7 385.75 275.7C389.44 276.7 394.46 277.25 398.11 277.5C401.77 277.75 404.3 277.72 407.7 277.2C411.09 276.68 415.58 275.57 418.51 274.4C421.45 273.23 423.51 271.5 425.31 270.2C427.12 268.9 428.66 267.2 429.33 266.6L436.85 262.40L431.70 256.00L423.87 261.20L426.14 264.4C425.47 265.03 423.99 266.97 422.12 268.2C420.25 269.43 417.57 270.8 414.91 271.8C412.25 272.8 408.98 273.7 406.15 274.2C403.32 274.7 400.65 274.83 397.91 274.8C395.16 274.77 392.33 274.63 389.67 274C387 273.37 384.17 272.37 381.94 271C379.71 269.63 377.68 268.18 376.27 265.8C374.86 263.42 373.95 258.22 373.49 256.7Z" fill="#b40000"/><path d="M431.89 256.7C432.35 258.18 433.08 263.13 434.64 265.6C436.2 268.07 438.54 269.82 441.25 271.5C443.97 273.18 447.27 274.7 450.92 275.7C454.56 276.7 459.52 277.25 463.13 277.5C466.74 277.75 469.23 277.72 472.59 277.2C475.95 276.68 480.38 275.57 483.28 274.4C486.18 273.23 488.21 271.5 489.99 270.2C491.77 268.9 493.3 267.2 493.96 266.6L501.39 262.40L496.30 256.00L488.57 261.20L490.81 264.4C490.14 265.03 488.69 266.97 486.84 268.2C484.99 269.43 482.34 270.8 479.71 271.8C477.09 272.8 473.86 273.7 471.07 274.2C468.27 274.7 465.64 274.83 462.93 274.8C460.21 274.77 457.41 274.63 454.79 274C452.16 273.37 449.36 272.37 447.15 271C444.95 269.63 442.95 268.18 441.56 265.8C440.17 263.42 439.27 258.22 438.81 256.7Z" fill="#b40000"/><line x1="522.8" y1="80.7" x2="522.8" y2="179" stroke="#000" stroke-width="1.8"/><path d="M520.1999999999999 85.10000000000001L522.8 80.5L525.4 85.10000000000001M520.1999999999999 174.6L522.8 179.2L525.4 174.6" fill="none" stroke="#000" stroke-width="1.9"/><line x1="522.8" y1="266.4" x2="522.8" y2="364" stroke="#000" stroke-width="1.8"/><path d="M520.1999999999999 270.79999999999995L522.8 266.2L525.4 270.79999999999995M520.1999999999999 359.6L522.8 364.2L525.4 359.6" fill="none" stroke="#000" stroke-width="1.9"/><text x="19.3" y="41.2" class="s" font-size="27.4">(a)</text><text x="180.8" y="35.9" class="r" font-weight="bold" font-size="20.5">Electrostatic potential well effect</text><text x="504.8" y="62.1" class="s" font-size="13.2">Free</text><text x="530.4" y="135.3" class="s" font-size="13.2">Condensed</text><text x="508.6" y="230" class="s" font-size="13.2">Free</text><text x="530.4" y="321" class="s" font-size="13.2">Condensed</text><text x="504.5" y="395.4" class="s" font-size="13.2">Free</text><text x="251.8" y="444.8" class="r" font-weight="bold" font-size="20.6">Tortuosity effect</text><g fill="none" stroke="#c00000" stroke-width="14" stroke-linejoin="round" stroke-linecap="butt"><path d="M63.7 464.6C64.68 465.43 67.22 467.78 69.6 469.6C71.98 471.42 75.2 474.23 78 475.5C80.8 476.77 83.6 477.33 86.4 477.2C89.2 477.07 92 476.23 94.8 474.7C97.6 473.17 100.67 470.1 103.2 468C105.73 465.9 107.47 463.5 110 462.1C112.53 460.7 115.6 459.75 118.4 459.6C121.2 459.45 124.28 460.23 126.8 461.2C129.32 462.17 131.05 464.1 133.5 465.4C135.95 466.7 138.67 466.9 141.5 469C144.33 471.1 147.18 474.67 150.5 478C153.82 481.33 157.42 486.08 161.4 489C165.38 491.92 169.77 494.27 174.4 495.5C179.03 496.73 183.65 496.4 189.2 496.4C194.75 496.4 202.15 495.35 207.7 495.5C213.25 495.65 218.18 496.23 222.5 497.3C226.82 498.37 230.83 499.58 233.6 501.9C236.37 504.22 238.48 508.12 239.1 511.2C239.72 514.28 239.15 517.63 237.3 520.4C235.45 523.17 232.02 525.95 228 527.8C223.98 529.65 217.37 530.38 213.2 531.5C209.03 532.62 205.03 532.83 203 534.5C200.97 536.17 200.17 539.83 201 541.5C201.83 543.17 204.42 544.32 208 544.5C211.58 544.68 217 543.07 222.5 542.6C228 542.13 234.83 541.75 241 541.7C247.17 541.65 254.3 542 259.5 542.3C264.7 542.6 268.55 541.9 272.2 543.5C275.85 545.1 279.18 548.65 281.4 551.9C283.62 555.15 284.48 558.65 285.5 563C286.52 567.35 286.75 573.67 287.5 578C288.25 582.33 288.4 586 290 589C291.6 592 293.37 595.15 297.1 596C300.83 596.85 307.63 596 312.4 594.1C317.17 592.2 321.27 587.78 325.7 584.6C330.13 581.42 334.23 577.55 339 575C343.77 572.45 349.22 570.25 354.3 569.3C359.38 568.35 365.38 568.18 369.5 569.3C373.62 570.42 375.92 572.72 379 576C382.08 579.28 385.17 585 388 589C390.83 593 393.77 596.73 396 600C398.23 603.27 400.97 605.03 401.4 608.6C401.83 612.17 400.98 618.32 398.6 621.4C396.22 624.48 391.15 625.67 387.1 627.1C383.05 628.53 376.92 628.08 374.3 630C371.68 631.92 370.45 635.75 371.4 638.6C372.35 641.45 377.62 644.48 380 647.1C382.38 649.72 385.47 651.92 385.7 654.3C385.93 656.68 384.25 659.97 381.4 661.4C378.55 662.83 372.65 662.18 368.6 662.9C364.55 663.62 359.25 663.8 357.1 665.7C354.95 667.6 354.5 672.15 355.7 674.3C356.9 676.45 360.73 678.13 364.3 678.6C367.87 679.07 372.82 677.58 377.1 677.1C381.38 676.62 385.95 676.17 390 675.7C394.05 675.23 398.07 674.65 401.4 674.3C404.73 673.95 406.73 673.52 410 673.6C413.27 673.68 417.67 673.82 421 674.8C424.33 675.78 427.75 677.3 430 679.5C432.25 681.7 433.75 686.58 434.5 688"/><path d="M133.5 465.4C133.92 467.17 135.42 471.9 136 476C136.58 480.1 136.25 485 137 490C137.75 495 138.58 501.23 140.5 506C142.42 510.77 145.02 514.68 148.5 518.6C151.98 522.52 158.02 525.8 161.4 529.5C164.78 533.2 167.37 536.45 168.8 540.8C170.23 545.15 169.63 550.73 170 555.6C170.37 560.47 169.67 566 171 570C172.33 574 174.67 578.18 178 579.6C181.33 581.02 186.05 579.93 191 578.5C195.95 577.07 202.45 573.75 207.7 571C212.95 568.25 218.18 564.4 222.5 562C226.82 559.6 230.18 557.1 233.6 556.6C237.02 556.1 240.52 557.1 243 559C245.48 560.9 247.08 564.5 248.5 568C249.92 571.5 250.17 575.67 251.5 580C252.83 584.33 255.25 589.67 256.5 594C257.75 598.33 259.17 602.17 259 606C258.83 609.83 257.5 614.25 255.5 617C253.5 619.75 250.28 621.33 247 622.5C243.72 623.67 240.13 623.5 235.8 624C231.47 624.5 225.93 624.67 221 625.5C216.07 626.33 210.78 627.5 206.2 629C201.62 630.5 196.62 632 193.5 634.5C190.38 637 188.5 640.38 187.5 644C186.5 647.62 188.08 651.7 187.5 656.2C186.92 660.7 185.2 665.62 184 671C182.8 676.38 180.92 685.58 180.3 688.5"/><path d="M42.7 517.5C45.17 517.05 52.78 514.58 57.5 514.8C62.22 515.02 67.85 516.78 71 518.8C74.15 520.82 74.17 525.55 76.4 526.9C78.63 528.25 81.27 527.8 84.4 526.9C87.53 526 92.05 521.05 95.2 521.5C98.35 521.95 101.42 525.12 103.3 529.6C105.18 534.08 105.55 542.8 106.5 548.4C107.45 554 106.4 560.05 109 563.2C111.6 566.35 118.85 564.83 122.1 567.3C125.35 569.77 128.5 574.42 128.5 578C128.5 581.58 125.85 586.78 122.1 588.8C118.35 590.82 109.77 588.32 106 590.1C102.23 591.88 99.28 596.58 99.5 599.5C99.72 602.42 103.05 606.43 107.3 607.6C111.55 608.77 119.88 606.52 125 606.5C130.12 606.48 134.65 606.32 138 607.5C141.35 608.68 142.37 611.97 145.1 613.6C147.83 615.23 151 617.57 154.4 617.3C157.8 617.03 162.07 614.3 165.5 612C168.93 609.7 171.58 605.58 175 603.5C178.42 601.42 182.67 599.42 186 599.5C189.33 599.58 193.42 601.67 195 604C196.58 606.33 196.67 610.75 195.5 613.5C194.33 616.25 191.08 618.58 188 620.5C184.92 622.42 181 623.5 177 625C173 626.5 167.83 627.67 164 629.5C160.17 631.33 156.83 633.1 154 636C151.17 638.9 150.02 643.23 147 646.9C143.98 650.57 139.6 654.6 135.9 658C132.2 661.4 127.42 663.9 124.8 667.3C122.18 670.7 121.08 674.95 120.2 678.4C119.32 681.85 119.62 686.4 119.5 688"/><path d="M44.1 535C45.43 536.33 49.92 539.42 52.1 543C54.28 546.58 56.63 552 57.2 556.5C57.77 561 55.78 565.25 55.5 570C55.22 574.75 55.15 580 55.5 585C55.85 590 56.27 595.92 57.6 600C58.93 604.08 60.57 606.83 63.5 609.5C66.43 612.17 71.2 614.08 75.2 616C79.2 617.92 84.37 618.92 87.5 621C90.63 623.08 92.95 625.78 94 628.5C95.05 631.22 94.8 634.7 93.8 637.3C92.8 639.9 90.45 642.73 88 644.1C85.55 645.47 81.6 646.1 79.1 645.5C76.6 644.9 74.85 642.5 73 640.5C71.15 638.5 69.87 636.12 68 633.5C66.13 630.88 63.8 627.02 61.8 624.8C59.8 622.58 57.65 620.42 56 620.2C54.35 619.98 52.7 621.47 51.9 623.5C51.1 625.53 51.2 628.97 51.2 632.4C51.2 635.83 51.47 640.35 51.9 644.1C52.33 647.85 52.37 652.2 53.8 654.9C55.23 657.6 57.25 659.32 60.5 660.3C63.75 661.28 69.53 660.27 73.3 660.8C77.07 661.33 80.55 662.05 83.1 663.5C85.65 664.95 87.2 667.08 88.6 669.5C90 671.92 90.77 674.83 91.5 678C92.23 681.17 92.75 686.75 93 688.5"/><path d="M167.5 460.5C168.25 461.08 170.23 462.65 172 464C173.77 465.35 175.23 467.67 178.1 468.6C180.97 469.53 184.88 469.75 189.2 469.6C193.52 469.45 199.07 467.47 204 467.7C208.93 467.93 213.97 468.7 218.8 471C223.63 473.3 228.67 478.95 233 481.5C237.33 484.05 241.2 484.63 244.8 486.3C248.4 487.97 251.33 490.02 254.6 491.5C257.87 492.98 261.13 495.25 264.4 495.2C267.67 495.15 270.93 493.3 274.2 491.2C277.47 489.1 280.73 485.17 284 482.6C287.27 480.03 290.53 477.23 293.8 475.8C297.07 474.37 300.32 473.8 303.6 474C306.88 474.2 310.33 475 313.5 477C316.67 479 320.77 482.67 322.6 486C324.43 489.33 325.43 493.87 324.5 497C323.57 500.13 320.48 502.88 317 504.8C313.52 506.72 307.07 506.97 303.6 508.5C300.13 510.03 296.72 511.75 296.2 514C295.68 516.25 297.42 520.25 300.5 522C303.58 523.75 309.25 524.33 314.7 524.5C320.15 524.67 327.33 523.92 333.2 523C339.07 522.08 345.27 521.33 349.9 519C354.53 516.67 358.85 513.08 361 509C363.15 504.92 363.12 498.77 362.8 494.5C362.48 490.23 361.25 486.78 359.1 483.4C356.95 480.02 352.67 476.85 349.9 474.2C347.13 471.55 343.43 469.67 342.5 467.5C341.57 465.33 342.45 462.52 344.3 461.2C346.15 459.88 350.2 459.28 353.6 459.6C357 459.92 361.13 461.37 364.7 463.1C368.27 464.83 371.62 466.85 375 470C378.38 473.15 381.5 478 385 482C388.5 486 392.5 490.17 396 494C399.5 497.83 404.83 501.67 406 505C407.17 508.33 405.33 512 403 514C400.67 516 395.5 515.5 392 517C388.5 518.5 383.33 520.83 382 523C380.67 525.17 381.33 528.27 384 530C386.67 531.73 392.67 532.07 398 533.4C403.33 534.73 411 536.4 416 538C421 539.6 424.57 540.33 428 543C431.43 545.67 435.17 552.17 436.6 554"/><path d="M221 688C222.23 684.85 225.32 673.78 228.4 669.1C231.48 664.42 235.9 661.9 239.5 659.9C243.1 657.9 246.75 658.23 250 657.1C253.25 655.97 254.95 655.35 259 653.1C263.05 650.85 270.17 647.72 274.3 643.6C278.43 639.48 280.63 632.83 283.8 628.4C286.97 623.97 289.8 618.9 293.3 617C296.8 615.1 300.98 615.1 304.8 617C308.62 618.9 313.03 627.13 316.2 628.4C319.37 629.67 321.27 627.78 323.8 624.6C326.33 621.42 329.5 614.38 331.4 609.3C333.3 604.22 333.43 597.58 335.2 594.1C336.97 590.62 339.3 588.75 342 588.4C344.7 588.05 348.88 589.35 351.4 592C353.92 594.65 356.85 599.87 357.1 604.3C357.35 608.73 355.03 614.32 352.9 618.6C350.77 622.88 346.68 625.72 344.3 630C341.92 634.28 340.27 640.55 338.6 644.3C336.93 648.05 336.07 650.72 334.3 652.5C332.53 654.28 331.02 654.5 328 655C324.98 655.5 320.7 655.42 316.2 655.5C311.7 655.58 305.45 654.3 301 655.5C296.55 656.7 292.68 659.6 289.5 662.7C286.32 665.8 283.8 670.38 281.9 674.1C280 677.82 278.73 683.18 278.1 685"/><path d="M255.5 492C255.83 494.03 256.33 500.85 257.5 504.2C258.67 507.55 260.03 510.13 262.5 512.1C264.97 514.07 269.05 514.92 272.3 516C275.55 517.08 279.07 517.43 282 518.6C284.93 519.77 287.65 520.77 289.9 523C292.15 525.23 294.22 529.17 295.5 532C296.78 534.83 297.17 537.62 297.6 540C298.03 542.38 297.1 543.7 298.1 546.3C299.1 548.9 300.83 553.75 303.6 555.6C306.37 557.45 309.77 558.63 314.7 557.4C319.63 556.17 327.03 550.67 333.2 548.2C339.37 545.73 345.53 543.53 351.7 542.6C357.87 541.67 364.07 542.45 370.2 542.6C376.33 542.75 382.98 542.57 388.5 543.5C394.02 544.43 398.98 545.57 403.3 548.2C407.62 550.83 411.63 555.6 414.4 559.3C417.17 563 418.42 566.82 419.9 570.4C421.38 573.98 422.1 576.85 423.3 580.8C424.5 584.75 426.15 588.72 427.1 594.1C428.05 599.48 428.68 606.75 429 613.1C429.32 619.45 428.35 626.8 429 632.2C429.65 637.6 430.67 641.05 432.9 645.5C435.13 649.95 439.23 654.77 442.4 658.9C445.57 663.03 449.05 666.5 451.9 670.3C454.75 674.1 457.92 678.75 459.5 681.7C461.08 684.65 461.08 686.95 461.4 688"/><path d="M436 550C435.8 547.83 435.3 541.33 434.8 537C434.3 532.67 433.88 528.33 433 524C432.12 519.67 430.75 515 429.5 511C428.25 507 426.58 503.5 425.5 500C424.42 496.5 423.08 493 423 490C422.92 487 423.67 484 425 482C426.33 480 428.67 478.75 431 478C433.33 477.25 436.5 476.92 439 477.5C441.5 478.08 444 479.58 446 481.5C448 483.42 449.58 486.25 451 489C452.42 491.75 453.17 495.17 454.5 498C455.83 500.83 457.08 503.83 459 506C460.92 508.17 463.5 510.58 466 511C468.5 511.42 471.42 510.08 474 508.5C476.58 506.92 479.42 504.17 481.5 501.5C483.58 498.83 485 495.17 486.5 492.5C488 489.83 489 487.08 490.5 485.5C492 483.92 494 482.58 495.5 483C497 483.42 498.78 485.67 499.5 488C500.22 490.33 500.3 493.92 499.8 497C499.3 500.08 498.13 503.5 496.5 506.5C494.87 509.5 492.67 512.42 490 515C487.33 517.58 484.17 520.17 480.5 522C476.83 523.83 472.08 524.83 468 526C463.92 527.17 458.87 527.15 456 529C453.13 530.85 450.65 533.9 450.8 537.1C450.95 540.3 453.72 544.82 456.9 548.2C460.08 551.58 465.97 554.93 469.9 557.4C473.83 559.87 478.23 560.9 480.5 563C482.77 565.1 484.13 567.67 483.5 570C482.87 572.33 480.38 575.52 476.7 577C473.02 578.48 466.48 579.23 461.4 578.9C456.32 578.57 450.95 576.28 446.2 575C441.45 573.72 436.6 571.53 432.9 571.2C429.2 570.87 425.48 572.7 424 573"/><path d="M430 599.8C433.33 600.12 443.5 601.22 450 601.7C456.5 602.18 463.6 602.07 469 602.7C474.4 603.33 479.22 603.12 482.4 605.5C485.58 607.88 488.1 613.5 488.1 617C488.1 620.5 486.22 625.23 482.4 626.5C478.58 627.77 470.28 624.92 465.2 624.6C460.12 624.28 455.07 623.33 451.9 624.6C448.73 625.87 446.83 629.03 446.2 632.2C445.57 635.37 445.88 640.75 448.1 643.6C450.32 646.45 454.42 648.03 459.5 649.3C464.58 650.57 473.2 650.25 478.6 651.2C484 652.15 488.73 652.45 491.9 655C495.07 657.55 496.33 662.37 497.6 666.5C498.87 670.63 498.87 676.22 499.5 679.8C500.13 683.38 501.08 686.63 501.4 688"/></g><g fill="none" stroke="#4672c2" stroke-width="1.9" stroke-linecap="round" stroke-linejoin="round"><path d="M63.7 494.0L93.5 497.0M85.6 500.5L93.5 497.0L86.5 492.0"/><path d="M113.8 514.0L132.4 538.3M124.5 535.0L132.4 538.3L131.3 529.8"/><path d="M170.9 479.2L201.0 481.7M193.2 485.3L201.0 481.7L193.9 476.8"/><path d="M220.8 488.5L245.3 501.0M236.7 501.4L245.3 501.0L240.6 493.8"/><path d="M142.3 561.8L155.0 593.0M148.2 587.7L155.0 593.0L156.1 584.5"/><path d="M169.4 594.0L203.2 588.8M196.5 594.2L203.2 588.8L195.2 585.7"/><path d="M219.8 582.5L233.0 614.3M226.2 609.0L233.0 614.3L234.1 605.8"/><path d="M205.2 619.4L175.0 637.6M179.2 630.1L175.0 637.6L183.6 637.4"/><path d="M171.0 645.5L151.0 679.8M151.1 671.2L151.0 679.8L158.5 675.5"/><path d="M252.9 525.0L277.5 537.9M268.9 538.2L277.5 537.9L272.9 530.6"/><path d="M283.5 548.2L295.5 568.5M288.0 564.2L295.5 568.5L295.4 559.9"/><path d="M335.2 557.3L361.8 557.3M354.3 561.6L361.8 557.3L354.3 553.0"/><path d="M385.6 566.0L402.3 581.8M393.9 579.8L402.3 581.8L399.8 573.6"/><path d="M413.4 600.5L414.7 627.2M410.1 620.0L414.7 627.2L418.6 619.5"/><path d="M418.5 649.5L435.4 668.4M427.2 665.7L435.4 668.4L433.6 660.0"/></g><rect x="184.6" y="461.2" width="51.7" height="44.8" fill="none" stroke="#000" stroke-width="1.4" stroke-dasharray="1.5 1.5"/><rect x="37.9" y="454.6" width="468" height="234.2" fill="none" stroke="#b40000" stroke-width="3.4"/><path d="M209.8 461.4L221.4 414" stroke="#000" stroke-width="3.8" fill="none"/><path d="M212.6 421.3L222.3 410.6L226.4 424.6" fill="none" stroke="#000" stroke-width="3.8" stroke-linejoin="miter"/><text x="662.7" y="83.6" class="s" font-size="27.4">(b)</text><path d="M752.3 64.7H826.8V60.2L837.4 70.3L826.8 80.4V75.3H752.3Z" fill="#b4c7e7" stroke="#6f8fd0" stroke-width="0.9"/><text x="853.9" y="74" class="s" font-weight="bold" font-size="17.6">mass diffusion (Vehicle mechanism)</text><circle cx="720.8" cy="96.8" r="5.3" fill="#808080"/><circle cx="740.4" cy="109.9" r="5.3" fill="#808080"/><circle cx="766.2" cy="126.6" r="5.3" fill="#808080"/><circle cx="751.8" cy="137.7" r="5.3" fill="#808080"/><circle cx="788.9" cy="92.5" r="5.3" fill="#808080"/><circle cx="790.9" cy="113.7" r="5.3" fill="#808080"/><circle cx="809.6" cy="128.8" r="5.3" fill="#808080"/><circle cx="784.4" cy="138.9" r="5.3" fill="#808080"/><circle cx="843.9" cy="94.3" r="5.3" fill="#808080"/><circle cx="848.5" cy="124.3" r="5.3" fill="#808080"/><circle cx="836.6" cy="139.9" r="5.3" fill="#808080"/><circle cx="888.6" cy="121.5" r="5.3" fill="#808080"/><circle cx="910.8" cy="90.5" r="5.3" fill="#808080"/><circle cx="924.4" cy="120.5" r="5.3" fill="#808080"/><circle cx="909.3" cy="136.4" r="5.3" fill="#808080"/><circle cx="946.8" cy="121.3" r="5.3" fill="#808080"/><circle cx="974.8" cy="112.4" r="5.3" fill="#808080"/><circle cx="969.5" cy="132.9" r="5.3" fill="#808080"/><circle cx="1012.2" cy="113.4" r="5.3" fill="#808080"/><circle cx="1001.8" cy="136.4" r="5.3" fill="#808080"/><circle cx="1045" cy="96.5" r="5.3" fill="#808080"/><circle cx="1038.7" cy="117.2" r="5.3" fill="#808080"/><circle cx="1036.7" cy="137.9" r="5.3" fill="#808080"/><circle cx="1060.9" cy="128.6" r="5.3" fill="#808080"/><circle cx="1078.5" cy="128.6" r="5.3" fill="#808080"/><circle cx="1092.4" cy="97.5" r="5.3" fill="#808080"/><circle cx="1085.9" cy="109.1" r="5.3" fill="#808080"/><circle cx="1098.2" cy="118.7" r="5.3" fill="#808080"/><circle cx="1120.7" cy="117.7" r="5.3" fill="#808080"/><circle cx="1105.8" cy="137.9" r="5.3" fill="#808080"/><circle cx="1150.5" cy="118.5" r="5.3" fill="#808080"/><circle cx="1226.7" cy="91.2" r="5.3" fill="#808080"/><circle cx="1195.9" cy="132.6" r="5.3" fill="#808080"/><circle cx="1211.5" cy="141.7" r="5.3" fill="#808080"/><circle cx="699.8" cy="119.2" r="8.4" fill="#f4f9fd" stroke="#7f9bbb" stroke-width="1.0"/><path d="M695 119.2H704.6M699.8 114.4V124" stroke="#000" stroke-width="2.8"/><circle cx="822.7" cy="109.7" r="8.4" fill="#f4f9fd" stroke="#7f9bbb" stroke-width="1.0"/><path d="M817.9 109.7H827.5M822.7 104.9V114.5" stroke="#000" stroke-width="2.8"/><circle cx="873.4" cy="139.2" r="8.4" fill="#f4f9fd" stroke="#7f9bbb" stroke-width="1.0"/><path d="M868.6 139.2H878.2M873.4 134.4V144" stroke="#000" stroke-width="2.8"/><circle cx="941.8" cy="101.3" r="8.4" fill="#f4f9fd" stroke="#7f9bbb" stroke-width="1.0"/><path d="M937 101.3H946.6M941.8 96.5V106.1" stroke="#000" stroke-width="2.8"/><circle cx="1154.5" cy="138.4" r="8.4" fill="#f4f9fd" stroke="#7f9bbb" stroke-width="1.0"/><path d="M1149.7 138.4H1159.3M1154.5 133.6V143.2" stroke="#000" stroke-width="2.8"/><circle cx="1205.5" cy="109.7" r="8.4" fill="#f4f9fd" stroke="#7f9bbb" stroke-width="1.0"/><path d="M1200.7 109.7H1210.3M1205.5 104.9V114.5" stroke="#000" stroke-width="2.8"/><circle cx="728.3" cy="141.7" r="8.4" fill="#f4f9fd" stroke="#8aa4c0" stroke-width="1.0"/><path d="M723 141.7H733.6" stroke="#93a8c2" stroke-width="1.0"/><circle cx="885.3" cy="103.1" r="8.4" fill="#f4f9fd" stroke="#8aa4c0" stroke-width="1.0"/><path d="M880 103.1H890.6" stroke="#93a8c2" stroke-width="1.0"/><circle cx="1233.8" cy="132.9" r="8.4" fill="#f4f9fd" stroke="#8aa4c0" stroke-width="1.0"/><path d="M1228.5 132.9H1239.1" stroke="#93a8c2" stroke-width="1.0"/><text x="662.7" y="263.8" class="s" font-size="27.4">(c)</text><path d="M973.3 240.2H1047.3V235.1L1057.4 245.7L1047.3 255.8V251.5H973.3Z" fill="#b4c7e7" stroke="#6f8fd0" stroke-width="0.9"/><path d="M1029.6 305H1104V300.3L1114.1 310.9L1104 321.5V316.4H1029.6Z" fill="#b4c7e7" stroke="#6f8fd0" stroke-width="0.9"/><text x="893.2" y="281.5" class="s" font-weight="bold" font-size="17.6">mass diffusion (Vehicle mechanism)</text><path d="M678.3 343.6C688 347 695 348.5 703 348C730 346 760 314 785 314C808 314 822 351 843 351C865 351 880 330 902 330C925 330 940 358 957 358C980 358 998 329 1018 329C1040 329 1055 358 1074 358C1095 358 1113 328 1134 328C1155 328 1172 345 1186 355" fill="none" stroke="#000" stroke-width="3"/><circle cx="743.9" cy="283.8" r="5.0" fill="#808080"/><circle cx="750.4" cy="312.3" r="5.0" fill="#808080"/><circle cx="838.3" cy="271.6" r="5.0" fill="#808080"/><circle cx="820.6" cy="305.7" r="5.0" fill="#808080"/><circle cx="864.5" cy="303.2" r="5.0" fill="#808080"/><circle cx="845.1" cy="325.4" r="5.0" fill="#808080"/><circle cx="900.3" cy="257.8" r="5.0" fill="#808080"/><circle cx="928.9" cy="307" r="5.0" fill="#808080"/><circle cx="959.4" cy="336.1" r="5.0" fill="#808080"/><circle cx="970.3" cy="315.4" r="5.0" fill="#808080"/><circle cx="1069.5" cy="290.7" r="5.0" fill="#808080"/><circle cx="1164.6" cy="310.1" r="5.0" fill="#808080"/><circle cx="1073.8" cy="330.3" r="5.0" fill="#808080"/><circle cx="838.3" cy="246.4" r="4.9" fill="#f4f9fd" stroke="#7f9bbb" stroke-width="0.9"/><path d="M835.5 246.4H841.1M838.3 243.6V249.2" stroke="#06101e" stroke-width="2.1"/><circle cx="786.3" cy="305.2" r="4.9" fill="#f4f9fd" stroke="#7f9bbb" stroke-width="0.9"/><path d="M783.5 305.2H789.1M786.3 302.4V308" stroke="#06101e" stroke-width="2.1"/><circle cx="902.4" cy="312.3" r="4.9" fill="#f4f9fd" stroke="#7f9bbb" stroke-width="0.9"/><path d="M899.6 312.3H905.2M902.4 309.5V315.1" stroke="#06101e" stroke-width="2.1"/><circle cx="962.2" cy="245.7" r="4.9" fill="#f4f9fd" stroke="#7f9bbb" stroke-width="0.9"/><path d="M959.4 245.7H965M962.2 242.9V248.5" stroke="#06101e" stroke-width="2.1"/><circle cx="1011.9" cy="310.3" r="4.9" fill="#f4f9fd" stroke="#7f9bbb" stroke-width="0.9"/><path d="M1009.1 310.3H1014.7M1011.9 307.5V313.1" stroke="#06101e" stroke-width="2.1"/><circle cx="1128" cy="310.1" r="4.9" fill="#f4f9fd" stroke="#7f9bbb" stroke-width="0.9"/><path d="M1125.2 310.1H1130.8M1128 307.3V312.9" stroke="#06101e" stroke-width="2.1"/><circle cx="784.8" cy="270.9" r="4.9" fill="#f4f9fd" stroke="#8aa4c0" stroke-width="0.9"/><path d="M781.8 270.9H787.8" stroke="#8fa6c0" stroke-width="1.0"/><circle cx="986.2" cy="296.5" r="4.9" fill="#f4f9fd" stroke="#8aa4c0" stroke-width="0.9"/><path d="M983.2 296.5H989.2" stroke="#8fa6c0" stroke-width="1.0"/><g filter="url(#glow)" opacity="0.85"><path d="M676 587.5C692 591 700 591 712 589C740 584 762 557 786 557C810 557 825 592 846 592C868 592 882 573 904 573C926 573 940 596 956 596C980 596 996 569 1014 569C1036 569 1050 594 1068 594C1090 594 1108 565 1128 565C1148 565 1160 576 1176 586" fill="none" stroke="#fbf27e" stroke-width="70" stroke-linecap="round"/></g><text x="662.7" y="511" class="s" font-size="27.4">(d)</text><text x="890.6" y="488" class="s" font-weight="bold" font-size="17.7">ion hopping (Grotthuss mechanism)</text><path d="M677.8 583.3C688 587 695 589 703 589C730 588 758 552.5 783 552.5C808 552.5 820 588.3 842 588.3C864 588.3 880 568 901 568C923 568 936 593 952 593C975 593 992 563.7 1011.4 563.7C1034 563.7 1048 590.3 1066 590.3C1090 590.3 1106 559.5 1126.3 559.5C1148 559.5 1162 578 1174 585.5" fill="none" stroke="#000" stroke-width="3"/><path d="M845.2 513.8C845.93 512.37 847.22 507.57 849.6 505.2C851.98 502.83 855.27 501.05 859.5 499.6C863.73 498.15 869.52 497.15 875 496.5C880.48 495.85 886.57 495.63 892.4 495.7C898.23 495.77 904.57 496.08 910 496.9C915.43 497.72 920.03 498.95 925 500.6C929.97 502.25 935.8 504.77 939.8 506.8C943.8 508.83 947.47 511.8 949 512.8L958.4 516.1L953 521.8L944.6 515.4L946.4 515.3C945 514.48 941.73 512.22 938 510.4C934.27 508.58 928.83 506.07 924 504.4C919.17 502.73 914.27 501.4 909 500.4C903.73 499.4 897.9 498.6 892.4 498.4C886.9 498.2 880.82 498.5 876 499.2C871.18 499.9 866.92 501.2 863.5 502.6C860.08 504 857.55 505.73 855.5 507.6C853.45 509.47 851.92 512.77 851.2 513.8Z" fill="#b80000"/><circle cx="764.1" cy="541.3" r="5.0" fill="#808080"/><circle cx="812.6" cy="531.4" r="5.0" fill="#808080"/><circle cx="827.4" cy="554.7" r="5.0" fill="#808080"/><circle cx="861.9" cy="553" r="5.0" fill="#808080"/><circle cx="889.4" cy="531.4" r="5.0" fill="#808080"/><circle cx="919.6" cy="531.4" r="5.0" fill="#808080"/><circle cx="933.4" cy="551.6" r="5.0" fill="#808080"/><circle cx="952.6" cy="574" r="5.0" fill="#808080"/><circle cx="977.3" cy="557.5" r="5.0" fill="#808080"/><circle cx="1068" cy="576.8" r="5.0" fill="#808080"/><circle cx="1129.7" cy="528.6" r="5.0" fill="#808080"/><circle cx="1155.7" cy="551.9" r="5.0" fill="#808080"/><circle cx="843.1" cy="525" r="5.1" fill="#f4f9fd" stroke="#7f9bbb" stroke-width="0.9"/><path d="M840.3 525H845.9M843.1 522.2V527.8" stroke="#06101e" stroke-width="2.1"/><circle cx="956.3" cy="530" r="5.1" fill="#f4f9fd" stroke="#7f9bbb" stroke-width="0.9"/><path d="M953.5 530H959.1M956.3 527.2V532.8" stroke="#06101e" stroke-width="2.1"/><circle cx="785.7" cy="542.1" r="5.1" fill="#fffbe6" stroke="#7f9bbb" stroke-width="0.9"/><path d="M782.9 542.1H788.5M785.7 539.3V544.9" stroke="#0e2a28" stroke-width="2.1"/><circle cx="902.3" cy="549.1" r="5.1" fill="#fffbe6" stroke="#7f9bbb" stroke-width="0.9"/><path d="M899.5 549.1H905.1M902.3 546.3V551.9" stroke="#0e2a28" stroke-width="2.1"/><circle cx="1011.7" cy="547.4" r="5.1" fill="#fffbe6" stroke="#7f9bbb" stroke-width="0.9"/><path d="M1008.9 547.4H1014.5M1011.7 544.6V550.2" stroke="#0e2a28" stroke-width="2.1"/><circle cx="1127.7" cy="547.4" r="5.1" fill="#fffbe6" stroke="#7f9bbb" stroke-width="0.9"/><path d="M1124.9 547.4H1130.5M1127.7 544.6V550.2" stroke="#0e2a28" stroke-width="2.1"/><circle cx="785.7" cy="518.3" r="5.1" fill="#f4f9fd" stroke="#8aa4c0" stroke-width="0.9"/><path d="M782.7 518.3H788.7" stroke="#8fa6c0" stroke-width="1.0"/><circle cx="1003.9" cy="525" r="5.1" fill="#f4f9fd" stroke="#8aa4c0" stroke-width="0.9"/><path d="M1000.9 525H1006.9" stroke="#8fa6c0" stroke-width="1.0"/><path d="M1029.1 542.1H1103V537.9L1113.7 547.7L1103 558V553.3H1029.1Z" fill="#70ad47" fill-opacity="0.35" stroke="#70ad47" stroke-opacity="0.6" stroke-width="1"/><g transform="translate(1070.8 547.7) rotate(45)" fill="#70ad47"><rect x="-20.2" y="-6.4" width="40.4" height="12.8"/><rect x="-6.4" y="-20.2" width="12.8" height="40.4"/></g><text x="815.6" y="648.5" class="r" font-weight="bold" font-size="20.5">Electrostatic potential well</text>
</svg>
</body></html>
